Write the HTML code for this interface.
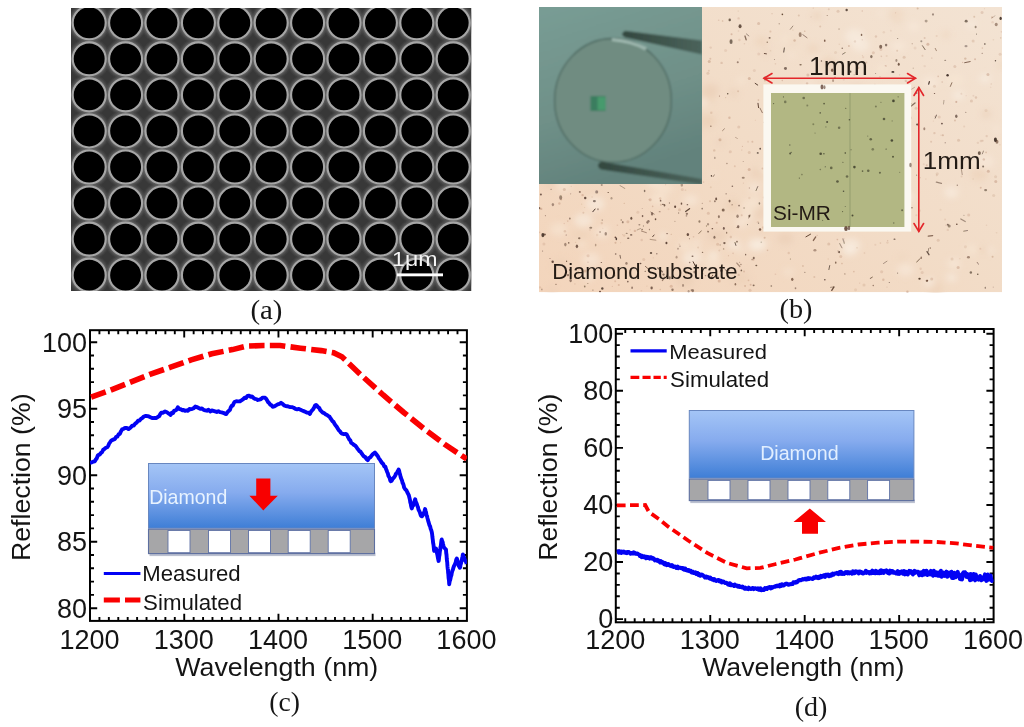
<!DOCTYPE html>
<html><head><meta charset="utf-8"><title>Figure</title>
<style>html,body{margin:0;padding:0;background:#fff;}body{width:1024px;height:727px;overflow:hidden;font-family:"Liberation Sans", sans-serif;}svg{display:block;will-change:transform;}</style>
</head><body>
<svg width="1024" height="727" viewBox="0 0 1024 727">
<clipPath id="semclip"><rect x="71" y="8" width="400.5" height="283"/></clipPath>
<radialGradient id="glow" cx="50%" cy="50%" r="50%"><stop offset="0.74" stop-color="#8c8c8c" stop-opacity="0.95"/><stop offset="0.85" stop-color="#626262" stop-opacity="0.65"/><stop offset="1" stop-color="#444" stop-opacity="0"/></radialGradient>
<filter id="semblur" x="0" y="0" width="1" height="1"><feGaussianBlur stdDeviation="0.45"/></filter>
<g clip-path="url(#semclip)"><g filter="url(#semblur)">
<rect x="71" y="8" width="400.5" height="283" fill="#383838"/>
<circle cx="89.2" cy="22.8" r="22" fill="url(#glow)"/>
<circle cx="125.6" cy="22.8" r="22" fill="url(#glow)"/>
<circle cx="162" cy="22.8" r="22" fill="url(#glow)"/>
<circle cx="198.4" cy="22.8" r="22" fill="url(#glow)"/>
<circle cx="234.8" cy="22.8" r="22" fill="url(#glow)"/>
<circle cx="271.2" cy="22.8" r="22" fill="url(#glow)"/>
<circle cx="307.6" cy="22.8" r="22" fill="url(#glow)"/>
<circle cx="344" cy="22.8" r="22" fill="url(#glow)"/>
<circle cx="380.4" cy="22.8" r="22" fill="url(#glow)"/>
<circle cx="416.8" cy="22.8" r="22" fill="url(#glow)"/>
<circle cx="453.2" cy="22.8" r="22" fill="url(#glow)"/>
<circle cx="89.2" cy="58.85" r="22" fill="url(#glow)"/>
<circle cx="125.6" cy="58.85" r="22" fill="url(#glow)"/>
<circle cx="162" cy="58.85" r="22" fill="url(#glow)"/>
<circle cx="198.4" cy="58.85" r="22" fill="url(#glow)"/>
<circle cx="234.8" cy="58.85" r="22" fill="url(#glow)"/>
<circle cx="271.2" cy="58.85" r="22" fill="url(#glow)"/>
<circle cx="307.6" cy="58.85" r="22" fill="url(#glow)"/>
<circle cx="344" cy="58.85" r="22" fill="url(#glow)"/>
<circle cx="380.4" cy="58.85" r="22" fill="url(#glow)"/>
<circle cx="416.8" cy="58.85" r="22" fill="url(#glow)"/>
<circle cx="453.2" cy="58.85" r="22" fill="url(#glow)"/>
<circle cx="89.2" cy="94.9" r="22" fill="url(#glow)"/>
<circle cx="125.6" cy="94.9" r="22" fill="url(#glow)"/>
<circle cx="162" cy="94.9" r="22" fill="url(#glow)"/>
<circle cx="198.4" cy="94.9" r="22" fill="url(#glow)"/>
<circle cx="234.8" cy="94.9" r="22" fill="url(#glow)"/>
<circle cx="271.2" cy="94.9" r="22" fill="url(#glow)"/>
<circle cx="307.6" cy="94.9" r="22" fill="url(#glow)"/>
<circle cx="344" cy="94.9" r="22" fill="url(#glow)"/>
<circle cx="380.4" cy="94.9" r="22" fill="url(#glow)"/>
<circle cx="416.8" cy="94.9" r="22" fill="url(#glow)"/>
<circle cx="453.2" cy="94.9" r="22" fill="url(#glow)"/>
<circle cx="89.2" cy="130.95" r="22" fill="url(#glow)"/>
<circle cx="125.6" cy="130.95" r="22" fill="url(#glow)"/>
<circle cx="162" cy="130.95" r="22" fill="url(#glow)"/>
<circle cx="198.4" cy="130.95" r="22" fill="url(#glow)"/>
<circle cx="234.8" cy="130.95" r="22" fill="url(#glow)"/>
<circle cx="271.2" cy="130.95" r="22" fill="url(#glow)"/>
<circle cx="307.6" cy="130.95" r="22" fill="url(#glow)"/>
<circle cx="344" cy="130.95" r="22" fill="url(#glow)"/>
<circle cx="380.4" cy="130.95" r="22" fill="url(#glow)"/>
<circle cx="416.8" cy="130.95" r="22" fill="url(#glow)"/>
<circle cx="453.2" cy="130.95" r="22" fill="url(#glow)"/>
<circle cx="89.2" cy="167" r="22" fill="url(#glow)"/>
<circle cx="125.6" cy="167" r="22" fill="url(#glow)"/>
<circle cx="162" cy="167" r="22" fill="url(#glow)"/>
<circle cx="198.4" cy="167" r="22" fill="url(#glow)"/>
<circle cx="234.8" cy="167" r="22" fill="url(#glow)"/>
<circle cx="271.2" cy="167" r="22" fill="url(#glow)"/>
<circle cx="307.6" cy="167" r="22" fill="url(#glow)"/>
<circle cx="344" cy="167" r="22" fill="url(#glow)"/>
<circle cx="380.4" cy="167" r="22" fill="url(#glow)"/>
<circle cx="416.8" cy="167" r="22" fill="url(#glow)"/>
<circle cx="453.2" cy="167" r="22" fill="url(#glow)"/>
<circle cx="89.2" cy="203.05" r="22" fill="url(#glow)"/>
<circle cx="125.6" cy="203.05" r="22" fill="url(#glow)"/>
<circle cx="162" cy="203.05" r="22" fill="url(#glow)"/>
<circle cx="198.4" cy="203.05" r="22" fill="url(#glow)"/>
<circle cx="234.8" cy="203.05" r="22" fill="url(#glow)"/>
<circle cx="271.2" cy="203.05" r="22" fill="url(#glow)"/>
<circle cx="307.6" cy="203.05" r="22" fill="url(#glow)"/>
<circle cx="344" cy="203.05" r="22" fill="url(#glow)"/>
<circle cx="380.4" cy="203.05" r="22" fill="url(#glow)"/>
<circle cx="416.8" cy="203.05" r="22" fill="url(#glow)"/>
<circle cx="453.2" cy="203.05" r="22" fill="url(#glow)"/>
<circle cx="89.2" cy="239.1" r="22" fill="url(#glow)"/>
<circle cx="125.6" cy="239.1" r="22" fill="url(#glow)"/>
<circle cx="162" cy="239.1" r="22" fill="url(#glow)"/>
<circle cx="198.4" cy="239.1" r="22" fill="url(#glow)"/>
<circle cx="234.8" cy="239.1" r="22" fill="url(#glow)"/>
<circle cx="271.2" cy="239.1" r="22" fill="url(#glow)"/>
<circle cx="307.6" cy="239.1" r="22" fill="url(#glow)"/>
<circle cx="344" cy="239.1" r="22" fill="url(#glow)"/>
<circle cx="380.4" cy="239.1" r="22" fill="url(#glow)"/>
<circle cx="416.8" cy="239.1" r="22" fill="url(#glow)"/>
<circle cx="453.2" cy="239.1" r="22" fill="url(#glow)"/>
<circle cx="89.2" cy="275.15" r="22" fill="url(#glow)"/>
<circle cx="125.6" cy="275.15" r="22" fill="url(#glow)"/>
<circle cx="162" cy="275.15" r="22" fill="url(#glow)"/>
<circle cx="198.4" cy="275.15" r="22" fill="url(#glow)"/>
<circle cx="234.8" cy="275.15" r="22" fill="url(#glow)"/>
<circle cx="271.2" cy="275.15" r="22" fill="url(#glow)"/>
<circle cx="307.6" cy="275.15" r="22" fill="url(#glow)"/>
<circle cx="344" cy="275.15" r="22" fill="url(#glow)"/>
<circle cx="380.4" cy="275.15" r="22" fill="url(#glow)"/>
<circle cx="416.8" cy="275.15" r="22" fill="url(#glow)"/>
<circle cx="453.2" cy="275.15" r="22" fill="url(#glow)"/>
<circle cx="89.2" cy="22.8" r="16.5" fill="#000" stroke="#a6a6a6" stroke-width="2.1"/>
<circle cx="125.6" cy="22.8" r="16.5" fill="#000" stroke="#a6a6a6" stroke-width="2.1"/>
<circle cx="162" cy="22.8" r="16.5" fill="#000" stroke="#a6a6a6" stroke-width="2.1"/>
<circle cx="198.4" cy="22.8" r="16.5" fill="#000" stroke="#a6a6a6" stroke-width="2.1"/>
<circle cx="234.8" cy="22.8" r="16.5" fill="#000" stroke="#a6a6a6" stroke-width="2.1"/>
<circle cx="271.2" cy="22.8" r="16.5" fill="#000" stroke="#a6a6a6" stroke-width="2.1"/>
<circle cx="307.6" cy="22.8" r="16.5" fill="#000" stroke="#a6a6a6" stroke-width="2.1"/>
<circle cx="344" cy="22.8" r="16.5" fill="#000" stroke="#a6a6a6" stroke-width="2.1"/>
<circle cx="380.4" cy="22.8" r="16.5" fill="#000" stroke="#a6a6a6" stroke-width="2.1"/>
<circle cx="416.8" cy="22.8" r="16.5" fill="#000" stroke="#a6a6a6" stroke-width="2.1"/>
<circle cx="453.2" cy="22.8" r="16.5" fill="#000" stroke="#a6a6a6" stroke-width="2.1"/>
<circle cx="89.2" cy="58.85" r="16.5" fill="#000" stroke="#a6a6a6" stroke-width="2.1"/>
<circle cx="125.6" cy="58.85" r="16.5" fill="#000" stroke="#a6a6a6" stroke-width="2.1"/>
<circle cx="162" cy="58.85" r="16.5" fill="#000" stroke="#a6a6a6" stroke-width="2.1"/>
<circle cx="198.4" cy="58.85" r="16.5" fill="#000" stroke="#a6a6a6" stroke-width="2.1"/>
<circle cx="234.8" cy="58.85" r="16.5" fill="#000" stroke="#a6a6a6" stroke-width="2.1"/>
<circle cx="271.2" cy="58.85" r="16.5" fill="#000" stroke="#a6a6a6" stroke-width="2.1"/>
<circle cx="307.6" cy="58.85" r="16.5" fill="#000" stroke="#a6a6a6" stroke-width="2.1"/>
<circle cx="344" cy="58.85" r="16.5" fill="#000" stroke="#a6a6a6" stroke-width="2.1"/>
<circle cx="380.4" cy="58.85" r="16.5" fill="#000" stroke="#a6a6a6" stroke-width="2.1"/>
<circle cx="416.8" cy="58.85" r="16.5" fill="#000" stroke="#a6a6a6" stroke-width="2.1"/>
<circle cx="453.2" cy="58.85" r="16.5" fill="#000" stroke="#a6a6a6" stroke-width="2.1"/>
<circle cx="89.2" cy="94.9" r="16.5" fill="#000" stroke="#a6a6a6" stroke-width="2.1"/>
<circle cx="125.6" cy="94.9" r="16.5" fill="#000" stroke="#a6a6a6" stroke-width="2.1"/>
<circle cx="162" cy="94.9" r="16.5" fill="#000" stroke="#a6a6a6" stroke-width="2.1"/>
<circle cx="198.4" cy="94.9" r="16.5" fill="#000" stroke="#a6a6a6" stroke-width="2.1"/>
<circle cx="234.8" cy="94.9" r="16.5" fill="#000" stroke="#a6a6a6" stroke-width="2.1"/>
<circle cx="271.2" cy="94.9" r="16.5" fill="#000" stroke="#a6a6a6" stroke-width="2.1"/>
<circle cx="307.6" cy="94.9" r="16.5" fill="#000" stroke="#a6a6a6" stroke-width="2.1"/>
<circle cx="344" cy="94.9" r="16.5" fill="#000" stroke="#a6a6a6" stroke-width="2.1"/>
<circle cx="380.4" cy="94.9" r="16.5" fill="#000" stroke="#a6a6a6" stroke-width="2.1"/>
<circle cx="416.8" cy="94.9" r="16.5" fill="#000" stroke="#a6a6a6" stroke-width="2.1"/>
<circle cx="453.2" cy="94.9" r="16.5" fill="#000" stroke="#a6a6a6" stroke-width="2.1"/>
<circle cx="89.2" cy="130.95" r="16.5" fill="#000" stroke="#a6a6a6" stroke-width="2.1"/>
<circle cx="125.6" cy="130.95" r="16.5" fill="#000" stroke="#a6a6a6" stroke-width="2.1"/>
<circle cx="162" cy="130.95" r="16.5" fill="#000" stroke="#a6a6a6" stroke-width="2.1"/>
<circle cx="198.4" cy="130.95" r="16.5" fill="#000" stroke="#a6a6a6" stroke-width="2.1"/>
<circle cx="234.8" cy="130.95" r="16.5" fill="#000" stroke="#a6a6a6" stroke-width="2.1"/>
<circle cx="271.2" cy="130.95" r="16.5" fill="#000" stroke="#a6a6a6" stroke-width="2.1"/>
<circle cx="307.6" cy="130.95" r="16.5" fill="#000" stroke="#a6a6a6" stroke-width="2.1"/>
<circle cx="344" cy="130.95" r="16.5" fill="#000" stroke="#a6a6a6" stroke-width="2.1"/>
<circle cx="380.4" cy="130.95" r="16.5" fill="#000" stroke="#a6a6a6" stroke-width="2.1"/>
<circle cx="416.8" cy="130.95" r="16.5" fill="#000" stroke="#a6a6a6" stroke-width="2.1"/>
<circle cx="453.2" cy="130.95" r="16.5" fill="#000" stroke="#a6a6a6" stroke-width="2.1"/>
<circle cx="89.2" cy="167" r="16.5" fill="#000" stroke="#a6a6a6" stroke-width="2.1"/>
<circle cx="125.6" cy="167" r="16.5" fill="#000" stroke="#a6a6a6" stroke-width="2.1"/>
<circle cx="162" cy="167" r="16.5" fill="#000" stroke="#a6a6a6" stroke-width="2.1"/>
<circle cx="198.4" cy="167" r="16.5" fill="#000" stroke="#a6a6a6" stroke-width="2.1"/>
<circle cx="234.8" cy="167" r="16.5" fill="#000" stroke="#a6a6a6" stroke-width="2.1"/>
<circle cx="271.2" cy="167" r="16.5" fill="#000" stroke="#a6a6a6" stroke-width="2.1"/>
<circle cx="307.6" cy="167" r="16.5" fill="#000" stroke="#a6a6a6" stroke-width="2.1"/>
<circle cx="344" cy="167" r="16.5" fill="#000" stroke="#a6a6a6" stroke-width="2.1"/>
<circle cx="380.4" cy="167" r="16.5" fill="#000" stroke="#a6a6a6" stroke-width="2.1"/>
<circle cx="416.8" cy="167" r="16.5" fill="#000" stroke="#a6a6a6" stroke-width="2.1"/>
<circle cx="453.2" cy="167" r="16.5" fill="#000" stroke="#a6a6a6" stroke-width="2.1"/>
<circle cx="89.2" cy="203.05" r="16.5" fill="#000" stroke="#a6a6a6" stroke-width="2.1"/>
<circle cx="125.6" cy="203.05" r="16.5" fill="#000" stroke="#a6a6a6" stroke-width="2.1"/>
<circle cx="162" cy="203.05" r="16.5" fill="#000" stroke="#a6a6a6" stroke-width="2.1"/>
<circle cx="198.4" cy="203.05" r="16.5" fill="#000" stroke="#a6a6a6" stroke-width="2.1"/>
<circle cx="234.8" cy="203.05" r="16.5" fill="#000" stroke="#a6a6a6" stroke-width="2.1"/>
<circle cx="271.2" cy="203.05" r="16.5" fill="#000" stroke="#a6a6a6" stroke-width="2.1"/>
<circle cx="307.6" cy="203.05" r="16.5" fill="#000" stroke="#a6a6a6" stroke-width="2.1"/>
<circle cx="344" cy="203.05" r="16.5" fill="#000" stroke="#a6a6a6" stroke-width="2.1"/>
<circle cx="380.4" cy="203.05" r="16.5" fill="#000" stroke="#a6a6a6" stroke-width="2.1"/>
<circle cx="416.8" cy="203.05" r="16.5" fill="#000" stroke="#a6a6a6" stroke-width="2.1"/>
<circle cx="453.2" cy="203.05" r="16.5" fill="#000" stroke="#a6a6a6" stroke-width="2.1"/>
<circle cx="89.2" cy="239.1" r="16.5" fill="#000" stroke="#a6a6a6" stroke-width="2.1"/>
<circle cx="125.6" cy="239.1" r="16.5" fill="#000" stroke="#a6a6a6" stroke-width="2.1"/>
<circle cx="162" cy="239.1" r="16.5" fill="#000" stroke="#a6a6a6" stroke-width="2.1"/>
<circle cx="198.4" cy="239.1" r="16.5" fill="#000" stroke="#a6a6a6" stroke-width="2.1"/>
<circle cx="234.8" cy="239.1" r="16.5" fill="#000" stroke="#a6a6a6" stroke-width="2.1"/>
<circle cx="271.2" cy="239.1" r="16.5" fill="#000" stroke="#a6a6a6" stroke-width="2.1"/>
<circle cx="307.6" cy="239.1" r="16.5" fill="#000" stroke="#a6a6a6" stroke-width="2.1"/>
<circle cx="344" cy="239.1" r="16.5" fill="#000" stroke="#a6a6a6" stroke-width="2.1"/>
<circle cx="380.4" cy="239.1" r="16.5" fill="#000" stroke="#a6a6a6" stroke-width="2.1"/>
<circle cx="416.8" cy="239.1" r="16.5" fill="#000" stroke="#a6a6a6" stroke-width="2.1"/>
<circle cx="453.2" cy="239.1" r="16.5" fill="#000" stroke="#a6a6a6" stroke-width="2.1"/>
<circle cx="89.2" cy="275.15" r="16.5" fill="#000" stroke="#a6a6a6" stroke-width="2.1"/>
<circle cx="125.6" cy="275.15" r="16.5" fill="#000" stroke="#a6a6a6" stroke-width="2.1"/>
<circle cx="162" cy="275.15" r="16.5" fill="#000" stroke="#a6a6a6" stroke-width="2.1"/>
<circle cx="198.4" cy="275.15" r="16.5" fill="#000" stroke="#a6a6a6" stroke-width="2.1"/>
<circle cx="234.8" cy="275.15" r="16.5" fill="#000" stroke="#a6a6a6" stroke-width="2.1"/>
<circle cx="271.2" cy="275.15" r="16.5" fill="#000" stroke="#a6a6a6" stroke-width="2.1"/>
<circle cx="307.6" cy="275.15" r="16.5" fill="#000" stroke="#a6a6a6" stroke-width="2.1"/>
<circle cx="344" cy="275.15" r="16.5" fill="#000" stroke="#a6a6a6" stroke-width="2.1"/>
<circle cx="380.4" cy="275.15" r="16.5" fill="#000" stroke="#a6a6a6" stroke-width="2.1"/>
<circle cx="416.8" cy="275.15" r="16.5" fill="#000" stroke="#a6a6a6" stroke-width="2.1"/>
<circle cx="453.2" cy="275.15" r="16.5" fill="#000" stroke="#a6a6a6" stroke-width="2.1"/>
</g></g>
<rect x="397" y="273.4" width="46" height="2.9" fill="#fff"/>
<text transform="translate(392.04 266.14) scale(1.1506 1)" font-family='"Liberation Sans", sans-serif' font-size="20.12" fill="#f4f4f4">1μm</text>
<text transform="translate(250.43 318.73) scale(1.0469 1)" font-family='"Liberation Serif", serif' font-size="27.57" fill="#161616">(a)</text>
<clipPath id="phclip"><rect x="539" y="7" width="463" height="285.3"/></clipPath>
<filter id="soft" x="-0.2" y="-0.2" width="1.4" height="1.4"><feGaussianBlur stdDeviation="0.5"/></filter>
<filter id="soft2" x="-0.5" y="-0.5" width="2" height="2"><feGaussianBlur stdDeviation="3"/></filter>
<g clip-path="url(#phclip)">
<linearGradient id="beige" x1="0" y1="1" x2="1" y2="0"><stop offset="0" stop-color="#f3d5bc"/><stop offset="0.5" stop-color="#f2dcc7"/><stop offset="1" stop-color="#f3e3d3"/></linearGradient>
<rect x="539" y="7" width="463" height="285.3" fill="url(#beige)"/>
<g filter="url(#soft2)">
<ellipse cx="649.18" cy="162.11" rx="5.59" ry="4.19" fill="#f9eee2" opacity="0.6"/>
<ellipse cx="758.49" cy="172.54" rx="7.24" ry="5.43" fill="#eacdb4" opacity="0.6"/>
<ellipse cx="659.08" cy="73.78" rx="9.97" ry="7.48" fill="#eacdb4" opacity="0.6"/>
<ellipse cx="789.47" cy="163.64" rx="5.78" ry="4.33" fill="#ecd0b8" opacity="0.6"/>
<ellipse cx="646.38" cy="50.21" rx="9.48" ry="7.11" fill="#eacdb4" opacity="0.6"/>
<ellipse cx="882.2" cy="198.35" rx="3.45" ry="2.59" fill="#f9eee2" opacity="0.6"/>
<ellipse cx="558.81" cy="229.32" rx="8.76" ry="6.57" fill="#f6e6d4" opacity="0.6"/>
<ellipse cx="757.88" cy="211.86" rx="9.15" ry="6.86" fill="#eacdb4" opacity="0.6"/>
<ellipse cx="721.87" cy="235.26" rx="6.11" ry="4.58" fill="#ecd0b8" opacity="0.6"/>
<ellipse cx="945.92" cy="34.77" rx="3.95" ry="2.96" fill="#ecd0b8" opacity="0.6"/>
<ellipse cx="658.45" cy="198.53" rx="8.45" ry="6.34" fill="#f6e6d4" opacity="0.6"/>
<ellipse cx="733.99" cy="244.54" rx="7.02" ry="5.26" fill="#f9eee2" opacity="0.6"/>
<ellipse cx="809.89" cy="173.51" rx="9.33" ry="7" fill="#f8eadb" opacity="0.6"/>
<ellipse cx="935.51" cy="289.43" rx="7.7" ry="5.77" fill="#ecd0b8" opacity="0.6"/>
<ellipse cx="862.46" cy="100.02" rx="6.79" ry="5.09" fill="#f9eee2" opacity="0.6"/>
<ellipse cx="802.5" cy="210.44" rx="4.48" ry="3.36" fill="#f9eee2" opacity="0.6"/>
<ellipse cx="662.66" cy="42.46" rx="6.37" ry="4.78" fill="#eacdb4" opacity="0.6"/>
<ellipse cx="579.98" cy="235.17" rx="5.87" ry="4.4" fill="#ecd0b8" opacity="0.6"/>
<ellipse cx="548.32" cy="128.74" rx="5.91" ry="4.43" fill="#f8eadb" opacity="0.6"/>
<ellipse cx="559.46" cy="182.14" rx="3.31" ry="2.49" fill="#f9eee2" opacity="0.6"/>
<ellipse cx="692.23" cy="258.06" rx="9.86" ry="7.4" fill="#f9eee2" opacity="0.6"/>
<ellipse cx="648.25" cy="17.26" rx="3.05" ry="2.29" fill="#f8eadb" opacity="0.6"/>
<ellipse cx="816.69" cy="15.94" rx="4.38" ry="3.29" fill="#eacdb4" opacity="0.6"/>
<ellipse cx="674.02" cy="82.06" rx="7.83" ry="5.87" fill="#f6e6d4" opacity="0.6"/>
<ellipse cx="684.3" cy="280.22" rx="9.28" ry="6.96" fill="#eacdb4" opacity="0.6"/>
<ellipse cx="713.44" cy="254.92" rx="5.7" ry="4.28" fill="#f9eee2" opacity="0.6"/>
<ellipse cx="854.29" cy="36.23" rx="9.81" ry="7.36" fill="#f9eee2" opacity="0.6"/>
<ellipse cx="664.61" cy="187.77" rx="8.01" ry="6.01" fill="#f6e6d4" opacity="0.6"/>
<ellipse cx="741.54" cy="80.6" rx="5.12" ry="3.84" fill="#f6e6d4" opacity="0.6"/>
<ellipse cx="544.3" cy="125.33" rx="7.06" ry="5.29" fill="#f8eadb" opacity="0.6"/>
<ellipse cx="713.33" cy="174.92" rx="3.93" ry="2.95" fill="#f6e6d4" opacity="0.6"/>
<ellipse cx="754.87" cy="200.6" rx="5.47" ry="4.1" fill="#f6e6d4" opacity="0.6"/>
<ellipse cx="880.71" cy="13.32" rx="3.42" ry="2.57" fill="#f8eadb" opacity="0.6"/>
<ellipse cx="985.01" cy="78.57" rx="6.19" ry="4.65" fill="#f9eee2" opacity="0.6"/>
<ellipse cx="817.47" cy="57.56" rx="4.3" ry="3.22" fill="#f6e6d4" opacity="0.6"/>
<ellipse cx="929.7" cy="82.28" rx="8.51" ry="6.38" fill="#f8eadb" opacity="0.6"/>
<ellipse cx="896.56" cy="14.67" rx="6.98" ry="5.24" fill="#ecd0b8" opacity="0.6"/>
<ellipse cx="682.54" cy="70.42" rx="8.63" ry="6.47" fill="#ecd0b8" opacity="0.6"/>
<ellipse cx="690.77" cy="200.25" rx="7.55" ry="5.66" fill="#f8eadb" opacity="0.6"/>
<ellipse cx="586.15" cy="98.76" rx="5.34" ry="4" fill="#ecd0b8" opacity="0.6"/>
<ellipse cx="741.99" cy="250.83" rx="4.18" ry="3.14" fill="#f6e6d4" opacity="0.6"/>
<ellipse cx="882.58" cy="69.14" rx="6.98" ry="5.23" fill="#f6e6d4" opacity="0.6"/>
<ellipse cx="643.19" cy="41.46" rx="6.71" ry="5.03" fill="#ecd0b8" opacity="0.6"/>
<ellipse cx="684.91" cy="245.32" rx="7.02" ry="5.27" fill="#f6e6d4" opacity="0.6"/>
<ellipse cx="696.47" cy="242.96" rx="3.6" ry="2.7" fill="#f9eee2" opacity="0.6"/>
<ellipse cx="698.87" cy="43.96" rx="5.04" ry="3.78" fill="#f6e6d4" opacity="0.6"/>
<ellipse cx="754.17" cy="187.74" rx="5.03" ry="3.77" fill="#f9eee2" opacity="0.6"/>
<ellipse cx="728.61" cy="269.37" rx="4.09" ry="3.07" fill="#f8eadb" opacity="0.6"/>
<ellipse cx="760.01" cy="244.27" rx="7.36" ry="5.52" fill="#f9eee2" opacity="0.6"/>
<ellipse cx="740.11" cy="277.8" rx="9.49" ry="7.12" fill="#ecd0b8" opacity="0.6"/>
<ellipse cx="553.96" cy="137.15" rx="8.27" ry="6.21" fill="#f9eee2" opacity="0.6"/>
<ellipse cx="985.04" cy="162" rx="9.23" ry="6.92" fill="#f8eadb" opacity="0.6"/>
<ellipse cx="936.25" cy="283.72" rx="3.84" ry="2.88" fill="#ecd0b8" opacity="0.6"/>
<ellipse cx="559.87" cy="264.53" rx="7.86" ry="5.89" fill="#ecd0b8" opacity="0.6"/>
<ellipse cx="954.11" cy="263.41" rx="7.04" ry="5.28" fill="#f8eadb" opacity="0.6"/>
<ellipse cx="761.73" cy="41.43" rx="6.52" ry="4.89" fill="#ecd0b8" opacity="0.6"/>
<ellipse cx="845.92" cy="156.61" rx="5.9" ry="4.42" fill="#f9eee2" opacity="0.6"/>
<ellipse cx="591.59" cy="42.74" rx="9.8" ry="7.35" fill="#f9eee2" opacity="0.6"/>
<ellipse cx="759.94" cy="229.96" rx="5.46" ry="4.1" fill="#ecd0b8" opacity="0.6"/>
<ellipse cx="595.59" cy="259.98" rx="3.83" ry="2.88" fill="#ecd0b8" opacity="0.6"/>
<ellipse cx="905.54" cy="269.7" rx="8.64" ry="6.48" fill="#f8eadb" opacity="0.6"/>
<ellipse cx="764.71" cy="169.71" rx="5.8" ry="4.35" fill="#f6e6d4" opacity="0.6"/>
<ellipse cx="653.94" cy="183.16" rx="6.64" ry="4.98" fill="#f8eadb" opacity="0.6"/>
<ellipse cx="757.95" cy="228.3" rx="3.01" ry="2.26" fill="#f8eadb" opacity="0.6"/>
<ellipse cx="897.94" cy="20.16" rx="3.35" ry="2.51" fill="#eacdb4" opacity="0.6"/>
<ellipse cx="990.28" cy="250.52" rx="3.6" ry="2.7" fill="#f9eee2" opacity="0.6"/>
<ellipse cx="765.87" cy="51.76" rx="3.5" ry="2.63" fill="#eacdb4" opacity="0.6"/>
<ellipse cx="838.52" cy="174.18" rx="5.53" ry="4.14" fill="#ecd0b8" opacity="0.6"/>
<ellipse cx="996.45" cy="129.18" rx="3.89" ry="2.92" fill="#f8eadb" opacity="0.6"/>
<ellipse cx="870.53" cy="115.37" rx="3.56" ry="2.67" fill="#ecd0b8" opacity="0.6"/>
<ellipse cx="558.89" cy="138.33" rx="7.55" ry="5.66" fill="#f9eee2" opacity="0.6"/>
<ellipse cx="715.06" cy="235.33" rx="7.36" ry="5.52" fill="#eacdb4" opacity="0.6"/>
<ellipse cx="563.57" cy="185.82" rx="8.32" ry="6.24" fill="#f6e6d4" opacity="0.6"/>
<ellipse cx="733.7" cy="204.83" rx="6.23" ry="4.67" fill="#ecd0b8" opacity="0.6"/>
<ellipse cx="640.23" cy="83.98" rx="7.13" ry="5.35" fill="#eacdb4" opacity="0.6"/>
<ellipse cx="642.92" cy="44.15" rx="3.2" ry="2.4" fill="#f6e6d4" opacity="0.6"/>
<ellipse cx="712.27" cy="262.89" rx="8.54" ry="6.4" fill="#f6e6d4" opacity="0.6"/>
<ellipse cx="595.23" cy="203.81" rx="9.57" ry="7.18" fill="#f9eee2" opacity="0.6"/>
<ellipse cx="905.91" cy="197.26" rx="8.14" ry="6.1" fill="#f9eee2" opacity="0.6"/>
<ellipse cx="785.3" cy="238.31" rx="8.02" ry="6.01" fill="#eacdb4" opacity="0.6"/>
<ellipse cx="605.45" cy="227.68" rx="3.31" ry="2.48" fill="#f8eadb" opacity="0.6"/>
<ellipse cx="800.28" cy="194.87" rx="5.63" ry="4.22" fill="#f8eadb" opacity="0.6"/>
<ellipse cx="697.11" cy="249.91" rx="3.18" ry="2.38" fill="#f8eadb" opacity="0.6"/>
<ellipse cx="850.85" cy="245.31" rx="9.67" ry="7.25" fill="#f9eee2" opacity="0.6"/>
<ellipse cx="677.61" cy="32.3" rx="9.97" ry="7.48" fill="#f9eee2" opacity="0.6"/>
<ellipse cx="775.74" cy="210.82" rx="3.75" ry="2.81" fill="#f8eadb" opacity="0.6"/>
<ellipse cx="971.7" cy="24.42" rx="5.27" ry="3.95" fill="#f9eee2" opacity="0.6"/>
<ellipse cx="622.54" cy="29.04" rx="9.99" ry="7.49" fill="#ecd0b8" opacity="0.6"/>
<ellipse cx="749.27" cy="206.53" rx="9.6" ry="7.2" fill="#f6e6d4" opacity="0.6"/>
<ellipse cx="709.14" cy="120.04" rx="5.45" ry="4.09" fill="#eacdb4" opacity="0.6"/>
<ellipse cx="986.4" cy="113.97" rx="4.65" ry="3.49" fill="#eacdb4" opacity="0.6"/>
<ellipse cx="929.59" cy="282.62" rx="5.91" ry="4.43" fill="#f9eee2" opacity="0.6"/>
<ellipse cx="889.08" cy="199.05" rx="6.62" ry="4.96" fill="#eacdb4" opacity="0.6"/>
<ellipse cx="611.31" cy="121.3" rx="9.21" ry="6.91" fill="#ecd0b8" opacity="0.6"/>
<ellipse cx="583.38" cy="220.22" rx="9.42" ry="7.06" fill="#f9eee2" opacity="0.6"/>
<ellipse cx="979.17" cy="174.14" rx="9.01" ry="6.76" fill="#ecd0b8" opacity="0.6"/>
<ellipse cx="662.79" cy="63.77" rx="7.1" ry="5.32" fill="#f6e6d4" opacity="0.6"/>
<ellipse cx="971.81" cy="249.67" rx="6.77" ry="5.07" fill="#f6e6d4" opacity="0.6"/>
<ellipse cx="849.85" cy="250.76" rx="7.17" ry="5.37" fill="#f9eee2" opacity="0.6"/>
<ellipse cx="809.69" cy="83.14" rx="4.52" ry="3.39" fill="#f8eadb" opacity="0.6"/>
<ellipse cx="663.13" cy="236.17" rx="4.4" ry="3.3" fill="#f9eee2" opacity="0.6"/>
<ellipse cx="705.9" cy="98.78" rx="8.42" ry="6.31" fill="#ecd0b8" opacity="0.6"/>
<ellipse cx="732.73" cy="205.8" rx="7.91" ry="5.93" fill="#ecd0b8" opacity="0.6"/>
<ellipse cx="755.71" cy="244.86" rx="8.75" ry="6.56" fill="#f9eee2" opacity="0.6"/>
<ellipse cx="551.86" cy="289.94" rx="3.51" ry="2.63" fill="#eacdb4" opacity="0.6"/>
<ellipse cx="901.58" cy="258.33" rx="3.32" ry="2.49" fill="#ecd0b8" opacity="0.6"/>
<ellipse cx="951.53" cy="191.75" rx="8.44" ry="6.33" fill="#f8eadb" opacity="0.6"/>
<ellipse cx="982.88" cy="250.36" rx="4.69" ry="3.52" fill="#ecd0b8" opacity="0.6"/>
<ellipse cx="898.2" cy="46.18" rx="7.35" ry="5.52" fill="#f8eadb" opacity="0.6"/>
<ellipse cx="955.59" cy="79.68" rx="9.06" ry="6.79" fill="#f6e6d4" opacity="0.6"/>
<ellipse cx="623.85" cy="32.92" rx="8.59" ry="6.44" fill="#f8eadb" opacity="0.6"/>
<ellipse cx="581.89" cy="244.67" rx="5.04" ry="3.78" fill="#f6e6d4" opacity="0.6"/>
<ellipse cx="748.44" cy="216.22" rx="5.36" ry="4.02" fill="#f8eadb" opacity="0.6"/>
<ellipse cx="694.01" cy="131.32" rx="6.4" ry="4.8" fill="#ecd0b8" opacity="0.6"/>
<ellipse cx="837.31" cy="218.58" rx="6.43" ry="4.82" fill="#ecd0b8" opacity="0.6"/>
<ellipse cx="791.04" cy="40.97" rx="4.92" ry="3.69" fill="#eacdb4" opacity="0.6"/>
<ellipse cx="591.1" cy="259.85" rx="9.36" ry="7.02" fill="#f8eadb" opacity="0.6"/>
<ellipse cx="783.32" cy="206.7" rx="7.75" ry="5.81" fill="#f6e6d4" opacity="0.6"/>
<ellipse cx="889.64" cy="91.23" rx="7.73" ry="5.8" fill="#f6e6d4" opacity="0.6"/>
<ellipse cx="588.62" cy="276.17" rx="5.37" ry="4.03" fill="#f9eee2" opacity="0.6"/>
<ellipse cx="787.25" cy="39.29" rx="6.46" ry="4.84" fill="#f6e6d4" opacity="0.6"/>
<ellipse cx="566.56" cy="90.91" rx="8.1" ry="6.07" fill="#ecd0b8" opacity="0.6"/>
<ellipse cx="838.02" cy="215.11" rx="4.05" ry="3.04" fill="#f6e6d4" opacity="0.6"/>
<ellipse cx="951.03" cy="193.78" rx="3.86" ry="2.9" fill="#f9eee2" opacity="0.6"/>
<ellipse cx="604.46" cy="101.49" rx="8.04" ry="6.03" fill="#f9eee2" opacity="0.6"/>
<ellipse cx="733.52" cy="92.66" rx="4.31" ry="3.23" fill="#eacdb4" opacity="0.6"/>
<ellipse cx="683.66" cy="57.27" rx="3.48" ry="2.61" fill="#ecd0b8" opacity="0.6"/>
<ellipse cx="888.32" cy="161.79" rx="8.18" ry="6.13" fill="#f6e6d4" opacity="0.6"/>
<ellipse cx="585.23" cy="84.19" rx="3.37" ry="2.53" fill="#ecd0b8" opacity="0.6"/>
<ellipse cx="558.5" cy="150.84" rx="4.73" ry="3.55" fill="#f9eee2" opacity="0.6"/>
<ellipse cx="702.95" cy="101.87" rx="5.82" ry="4.37" fill="#f9eee2" opacity="0.6"/>
<ellipse cx="913.64" cy="26.73" rx="6.49" ry="4.86" fill="#f8eadb" opacity="0.6"/>
<ellipse cx="609.18" cy="175.18" rx="7.77" ry="5.83" fill="#f9eee2" opacity="0.6"/>
<ellipse cx="899.67" cy="214.28" rx="4.29" ry="3.22" fill="#ecd0b8" opacity="0.6"/>
<ellipse cx="801.56" cy="197.99" rx="5.74" ry="4.3" fill="#ecd0b8" opacity="0.6"/>
<ellipse cx="813.06" cy="48.74" rx="5.79" ry="4.34" fill="#ecd0b8" opacity="0.6"/>
<ellipse cx="791.21" cy="55.54" rx="4.25" ry="3.19" fill="#f6e6d4" opacity="0.6"/>
<ellipse cx="710.12" cy="90.51" rx="8.9" ry="6.67" fill="#eacdb4" opacity="0.6"/>
<ellipse cx="951.63" cy="277.56" rx="5.68" ry="4.26" fill="#f9eee2" opacity="0.6"/>
<ellipse cx="958.55" cy="95.24" rx="6.48" ry="4.86" fill="#f9eee2" opacity="0.6"/>
<ellipse cx="856.91" cy="92.33" rx="9.02" ry="6.77" fill="#eacdb4" opacity="0.6"/>
<ellipse cx="552.97" cy="61.29" rx="7.44" ry="5.58" fill="#f8eadb" opacity="0.6"/>
<ellipse cx="895.72" cy="195.65" rx="6.44" ry="4.83" fill="#f9eee2" opacity="0.6"/>
<ellipse cx="828.38" cy="63.69" rx="8.48" ry="6.36" fill="#ecd0b8" opacity="0.6"/>
<ellipse cx="556.16" cy="149.63" rx="7.52" ry="5.64" fill="#eacdb4" opacity="0.6"/>
<ellipse cx="590.66" cy="87.73" rx="7.6" ry="5.7" fill="#ecd0b8" opacity="0.6"/>
<ellipse cx="601.78" cy="232.83" rx="7.36" ry="5.52" fill="#f8eadb" opacity="0.6"/>
<ellipse cx="550.81" cy="183.23" rx="6.54" ry="4.91" fill="#eacdb4" opacity="0.6"/>
<ellipse cx="788.5" cy="272" rx="5.26" ry="3.95" fill="#f6e6d4" opacity="0.6"/>
<ellipse cx="860.63" cy="45.29" rx="9.01" ry="6.76" fill="#f9eee2" opacity="0.6"/>
<ellipse cx="897.99" cy="16.68" rx="3.56" ry="2.67" fill="#f6e6d4" opacity="0.6"/>
<ellipse cx="1001.01" cy="65.45" rx="3.44" ry="2.58" fill="#ecd0b8" opacity="0.6"/>
<ellipse cx="741.34" cy="222.7" rx="6.4" ry="4.8" fill="#f8eadb" opacity="0.6"/>
<ellipse cx="903.33" cy="123.42" rx="8.92" ry="6.69" fill="#ecd0b8" opacity="0.6"/>
<ellipse cx="720.26" cy="141.88" rx="3.48" ry="2.61" fill="#eacdb4" opacity="0.6"/>
<ellipse cx="635.48" cy="146.37" rx="3.16" ry="2.37" fill="#eacdb4" opacity="0.6"/>
<ellipse cx="889.54" cy="121.42" rx="4.26" ry="3.2" fill="#f8eadb" opacity="0.6"/>
<ellipse cx="872.22" cy="111.58" rx="5.6" ry="4.2" fill="#f9eee2" opacity="0.6"/>
<ellipse cx="706.39" cy="121.52" rx="9.79" ry="7.34" fill="#ecd0b8" opacity="0.6"/>
<ellipse cx="658.77" cy="112.34" rx="8.99" ry="6.74" fill="#f9eee2" opacity="0.6"/>
</g>
<g filter="url(#soft)">
<circle cx="629.42" cy="66.65" r="0.8" fill="#a87458" opacity="0.25"/>
<circle cx="772.19" cy="188.46" r="0.8" fill="#a87458" opacity="0.15"/>
<circle cx="616.89" cy="146.73" r="0.6" fill="#a87458" opacity="0.31"/>
<circle cx="725.64" cy="97.59" r="0.6" fill="#a87458" opacity="0.28"/>
<circle cx="562.67" cy="121.94" r="1.2" fill="#a87458" opacity="0.23"/>
<circle cx="959.85" cy="258.68" r="0.8" fill="#a87458" opacity="0.14"/>
<circle cx="758.73" cy="53.96" r="1.5" fill="#a87458" opacity="0.15"/>
<circle cx="961.57" cy="176.41" r="1.0" fill="#a87458" opacity="0.18"/>
<circle cx="903.77" cy="139.64" r="1.0" fill="#a87458" opacity="0.23"/>
<circle cx="798.8" cy="15.58" r="1.0" fill="#a87458" opacity="0.26"/>
<circle cx="698.61" cy="33.71" r="1.2" fill="#a87458" opacity="0.34"/>
<circle cx="813.22" cy="8.04" r="0.6" fill="#a87458" opacity="0.28"/>
<circle cx="547.83" cy="150.36" r="1.2" fill="#a87458" opacity="0.13"/>
<circle cx="841.95" cy="263.59" r="0.8" fill="#a87458" opacity="0.33"/>
<circle cx="889.68" cy="103.9" r="1.2" fill="#a87458" opacity="0.33"/>
<circle cx="974.26" cy="16.75" r="1.0" fill="#a87458" opacity="0.29"/>
<circle cx="831.38" cy="119.39" r="1.0" fill="#a87458" opacity="0.16"/>
<circle cx="730.25" cy="151.63" r="1.5" fill="#a87458" opacity="0.20"/>
<circle cx="853.86" cy="271.63" r="0.8" fill="#a87458" opacity="0.31"/>
<circle cx="939.27" cy="116.97" r="1.5" fill="#a87458" opacity="0.20"/>
<circle cx="624.16" cy="235.48" r="1.2" fill="#a87458" opacity="0.17"/>
<circle cx="899.89" cy="143.98" r="1.0" fill="#a87458" opacity="0.31"/>
<circle cx="773.76" cy="221.53" r="1.2" fill="#a87458" opacity="0.34"/>
<circle cx="558.79" cy="55.93" r="0.6" fill="#a87458" opacity="0.31"/>
<circle cx="581.59" cy="204.18" r="0.6" fill="#a87458" opacity="0.19"/>
<circle cx="817.12" cy="235.38" r="0.6" fill="#a87458" opacity="0.32"/>
<circle cx="942.86" cy="135.22" r="1.0" fill="#a87458" opacity="0.35"/>
<circle cx="539.77" cy="62.53" r="0.6" fill="#a87458" opacity="0.20"/>
<circle cx="683.14" cy="135.34" r="0.8" fill="#a87458" opacity="0.18"/>
<circle cx="561.6" cy="50.51" r="0.8" fill="#a87458" opacity="0.25"/>
<circle cx="544.4" cy="72.53" r="0.8" fill="#a87458" opacity="0.17"/>
<circle cx="799.41" cy="126.59" r="1.5" fill="#a87458" opacity="0.19"/>
<circle cx="947.78" cy="229.92" r="1.2" fill="#a87458" opacity="0.16"/>
<circle cx="575.64" cy="242.27" r="0.6" fill="#a87458" opacity="0.26"/>
<circle cx="936.66" cy="35.9" r="1.0" fill="#a87458" opacity="0.14"/>
<circle cx="754.4" cy="70.48" r="1.5" fill="#a87458" opacity="0.15"/>
<circle cx="763.83" cy="197.52" r="1.0" fill="#a87458" opacity="0.21"/>
<circle cx="845.08" cy="228.68" r="1.0" fill="#a87458" opacity="0.31"/>
<circle cx="814.21" cy="239.22" r="0.8" fill="#a87458" opacity="0.15"/>
<circle cx="542.5" cy="92.29" r="0.6" fill="#a87458" opacity="0.20"/>
<circle cx="627.88" cy="221.78" r="1.5" fill="#a87458" opacity="0.28"/>
<circle cx="707.83" cy="230.47" r="0.6" fill="#a87458" opacity="0.26"/>
<circle cx="638.16" cy="106.91" r="0.6" fill="#a87458" opacity="0.20"/>
<circle cx="738.47" cy="30.99" r="0.8" fill="#a87458" opacity="0.19"/>
<circle cx="886.04" cy="65.98" r="0.8" fill="#a87458" opacity="0.32"/>
<circle cx="995.78" cy="181.46" r="1.5" fill="#a87458" opacity="0.32"/>
<circle cx="709.28" cy="61.48" r="1.5" fill="#a87458" opacity="0.34"/>
<circle cx="763.18" cy="227.44" r="1.2" fill="#a87458" opacity="0.23"/>
<circle cx="811.05" cy="16.97" r="0.6" fill="#a87458" opacity="0.16"/>
<circle cx="583.39" cy="212.87" r="1.0" fill="#a87458" opacity="0.24"/>
<circle cx="567.41" cy="141.55" r="0.8" fill="#a87458" opacity="0.29"/>
<circle cx="666.78" cy="130.23" r="1.0" fill="#a87458" opacity="0.23"/>
<circle cx="630.09" cy="229.87" r="0.8" fill="#a87458" opacity="0.14"/>
<circle cx="677.59" cy="124.16" r="0.6" fill="#a87458" opacity="0.17"/>
<circle cx="764.62" cy="237.85" r="1.0" fill="#a87458" opacity="0.34"/>
<circle cx="992.58" cy="256.7" r="1.0" fill="#a87458" opacity="0.34"/>
<circle cx="738.69" cy="274.9" r="1.2" fill="#a87458" opacity="0.24"/>
<circle cx="789.98" cy="109.52" r="1.0" fill="#a87458" opacity="0.19"/>
<circle cx="753.44" cy="259.74" r="1.0" fill="#a87458" opacity="0.29"/>
<circle cx="969.65" cy="155.08" r="0.6" fill="#a87458" opacity="0.15"/>
<circle cx="784.79" cy="159.71" r="0.8" fill="#a87458" opacity="0.34"/>
<circle cx="539.9" cy="287.35" r="1.2" fill="#a87458" opacity="0.20"/>
<circle cx="986.09" cy="110.4" r="1.5" fill="#a87458" opacity="0.13"/>
<circle cx="624.67" cy="10.76" r="1.2" fill="#a87458" opacity="0.33"/>
<circle cx="925.85" cy="178.99" r="0.6" fill="#a87458" opacity="0.22"/>
<circle cx="660.18" cy="198.51" r="1.2" fill="#a87458" opacity="0.22"/>
<circle cx="659.54" cy="19.54" r="1.2" fill="#a87458" opacity="0.13"/>
<circle cx="1000.13" cy="54.19" r="1.5" fill="#a87458" opacity="0.18"/>
<circle cx="601.81" cy="223.12" r="1.2" fill="#a87458" opacity="0.24"/>
<circle cx="923.75" cy="164.28" r="1.0" fill="#a87458" opacity="0.12"/>
<circle cx="560" cy="145.46" r="0.6" fill="#a87458" opacity="0.33"/>
<circle cx="958.55" cy="140.23" r="1.5" fill="#a87458" opacity="0.24"/>
<circle cx="710.8" cy="187.16" r="1.0" fill="#a87458" opacity="0.16"/>
<circle cx="855.59" cy="289.75" r="1.5" fill="#a87458" opacity="0.14"/>
<circle cx="897.44" cy="133.57" r="1.0" fill="#a87458" opacity="0.30"/>
<circle cx="748.51" cy="280.39" r="0.8" fill="#a87458" opacity="0.25"/>
<circle cx="603.66" cy="17.76" r="1.2" fill="#a87458" opacity="0.32"/>
<circle cx="922.18" cy="272.43" r="1.5" fill="#a87458" opacity="0.18"/>
<circle cx="685.54" cy="177.35" r="0.6" fill="#a87458" opacity="0.23"/>
<circle cx="668.57" cy="209.18" r="1.0" fill="#a87458" opacity="0.14"/>
<circle cx="848.6" cy="112.82" r="1.5" fill="#a87458" opacity="0.23"/>
<circle cx="887.43" cy="242.58" r="1.2" fill="#a87458" opacity="0.16"/>
<circle cx="965.29" cy="58.62" r="1.2" fill="#a87458" opacity="0.34"/>
<circle cx="722.61" cy="21.05" r="0.8" fill="#a87458" opacity="0.34"/>
<circle cx="975.98" cy="97.46" r="1.2" fill="#a87458" opacity="0.25"/>
<circle cx="555.46" cy="125.95" r="1.2" fill="#a87458" opacity="0.35"/>
<circle cx="575.7" cy="72.48" r="0.8" fill="#a87458" opacity="0.29"/>
<circle cx="862.26" cy="39.81" r="0.6" fill="#a87458" opacity="0.27"/>
<circle cx="917.65" cy="8.53" r="1.0" fill="#a87458" opacity="0.34"/>
<circle cx="859.42" cy="129.91" r="1.2" fill="#a87458" opacity="0.23"/>
<circle cx="672.99" cy="166.47" r="0.8" fill="#a87458" opacity="0.17"/>
<circle cx="982.35" cy="48.1" r="0.8" fill="#a87458" opacity="0.28"/>
<circle cx="755.38" cy="120.32" r="0.6" fill="#a87458" opacity="0.15"/>
<circle cx="564.27" cy="223.45" r="0.8" fill="#a87458" opacity="0.19"/>
<circle cx="839.32" cy="44.27" r="0.8" fill="#a87458" opacity="0.13"/>
<circle cx="983.83" cy="159.39" r="1.2" fill="#a87458" opacity="0.30"/>
<circle cx="739.61" cy="58.81" r="0.6" fill="#a87458" opacity="0.18"/>
<circle cx="599.8" cy="48.4" r="0.8" fill="#a87458" opacity="0.21"/>
<circle cx="973.24" cy="179.05" r="0.8" fill="#a87458" opacity="0.12"/>
<circle cx="710.72" cy="47.61" r="1.2" fill="#a87458" opacity="0.18"/>
<circle cx="703.07" cy="277.99" r="1.2" fill="#a87458" opacity="0.14"/>
<circle cx="931.1" cy="141.73" r="1.0" fill="#a87458" opacity="0.24"/>
<circle cx="934.43" cy="133.1" r="1.2" fill="#a87458" opacity="0.23"/>
<circle cx="788.15" cy="133.05" r="1.5" fill="#a87458" opacity="0.22"/>
<circle cx="716.76" cy="222.63" r="1.0" fill="#a87458" opacity="0.33"/>
<circle cx="931.78" cy="58.15" r="0.8" fill="#a87458" opacity="0.19"/>
<circle cx="927.9" cy="44.16" r="1.5" fill="#a87458" opacity="0.35"/>
<circle cx="728.5" cy="255.71" r="0.6" fill="#a87458" opacity="0.25"/>
<circle cx="612.14" cy="41.92" r="1.2" fill="#a87458" opacity="0.35"/>
<circle cx="856.37" cy="156.69" r="1.0" fill="#a87458" opacity="0.14"/>
<circle cx="789.2" cy="132.74" r="0.8" fill="#a87458" opacity="0.26"/>
<circle cx="640.18" cy="137.03" r="1.5" fill="#a87458" opacity="0.21"/>
<circle cx="686.29" cy="109.16" r="1.5" fill="#a87458" opacity="0.30"/>
<circle cx="873.82" cy="105.04" r="1.0" fill="#a87458" opacity="0.19"/>
<circle cx="991.22" cy="83.88" r="0.6" fill="#a87458" opacity="0.26"/>
<circle cx="641.46" cy="290.7" r="0.8" fill="#a87458" opacity="0.18"/>
<circle cx="986.69" cy="136.08" r="1.2" fill="#a87458" opacity="0.20"/>
<circle cx="904.14" cy="57.13" r="1.5" fill="#a87458" opacity="0.24"/>
<circle cx="743.44" cy="183.07" r="0.6" fill="#a87458" opacity="0.22"/>
<circle cx="793.59" cy="181" r="1.0" fill="#a87458" opacity="0.13"/>
<circle cx="934.63" cy="116.45" r="0.6" fill="#a87458" opacity="0.20"/>
<circle cx="638.38" cy="163.38" r="0.6" fill="#a87458" opacity="0.22"/>
<circle cx="940.64" cy="209.74" r="1.0" fill="#a87458" opacity="0.12"/>
<circle cx="711.27" cy="112.75" r="1.2" fill="#a87458" opacity="0.21"/>
<circle cx="840.75" cy="256.41" r="1.5" fill="#a87458" opacity="0.23"/>
<circle cx="688.72" cy="7.01" r="0.6" fill="#a87458" opacity="0.26"/>
<circle cx="603.6" cy="30.24" r="1.0" fill="#a87458" opacity="0.22"/>
<circle cx="630.15" cy="15.09" r="1.0" fill="#a87458" opacity="0.24"/>
<circle cx="880.42" cy="243.1" r="0.8" fill="#a87458" opacity="0.22"/>
<circle cx="854.97" cy="41.41" r="1.2" fill="#a87458" opacity="0.17"/>
<circle cx="603.32" cy="94.4" r="1.5" fill="#a87458" opacity="0.16"/>
<circle cx="920.32" cy="177.67" r="0.6" fill="#a87458" opacity="0.22"/>
<circle cx="907.54" cy="116.1" r="1.2" fill="#a87458" opacity="0.31"/>
<circle cx="624.03" cy="85.14" r="1.2" fill="#a87458" opacity="0.17"/>
<circle cx="833.37" cy="174.03" r="1.0" fill="#a87458" opacity="0.22"/>
<circle cx="583.93" cy="286.05" r="0.6" fill="#a87458" opacity="0.13"/>
<circle cx="945.13" cy="219.62" r="1.0" fill="#a87458" opacity="0.14"/>
<circle cx="543.39" cy="143.78" r="1.2" fill="#a87458" opacity="0.27"/>
<circle cx="582.6" cy="195.11" r="1.2" fill="#a87458" opacity="0.32"/>
<circle cx="643.64" cy="98.97" r="1.2" fill="#a87458" opacity="0.34"/>
<circle cx="563.03" cy="154.64" r="1.5" fill="#a87458" opacity="0.24"/>
<circle cx="804.72" cy="31.31" r="0.8" fill="#a87458" opacity="0.31"/>
<circle cx="920.66" cy="268.69" r="1.2" fill="#a87458" opacity="0.19"/>
<circle cx="993.7" cy="195.51" r="1.5" fill="#a87458" opacity="0.17"/>
<circle cx="804.33" cy="104.68" r="1.5" fill="#a87458" opacity="0.15"/>
<circle cx="785.12" cy="183.69" r="1.0" fill="#a87458" opacity="0.19"/>
<circle cx="937.23" cy="173.64" r="1.5" fill="#a87458" opacity="0.17"/>
<circle cx="566.72" cy="130.36" r="1.0" fill="#a87458" opacity="0.26"/>
<circle cx="767.5" cy="250.33" r="0.8" fill="#a87458" opacity="0.31"/>
<circle cx="973.13" cy="41.12" r="1.5" fill="#a87458" opacity="0.21"/>
<circle cx="637.13" cy="60.14" r="0.6" fill="#a87458" opacity="0.20"/>
<circle cx="653.31" cy="257.82" r="0.6" fill="#a87458" opacity="0.17"/>
<circle cx="708.88" cy="70.68" r="1.0" fill="#a87458" opacity="0.18"/>
<circle cx="660.93" cy="204.83" r="1.0" fill="#a87458" opacity="0.29"/>
<circle cx="635.13" cy="93.58" r="0.8" fill="#a87458" opacity="0.25"/>
<circle cx="652.66" cy="206.39" r="0.8" fill="#a87458" opacity="0.31"/>
<circle cx="707.89" cy="73.21" r="1.5" fill="#a87458" opacity="0.21"/>
<circle cx="788.8" cy="177.36" r="1.0" fill="#a87458" opacity="0.22"/>
<circle cx="564.92" cy="231.21" r="1.2" fill="#a87458" opacity="0.23"/>
<circle cx="807.07" cy="83.51" r="1.2" fill="#a87458" opacity="0.28"/>
<circle cx="641.73" cy="239.98" r="1.2" fill="#a87458" opacity="0.20"/>
<circle cx="999.93" cy="144.69" r="0.8" fill="#a87458" opacity="0.15"/>
<circle cx="733.08" cy="253.34" r="0.8" fill="#a87458" opacity="0.25"/>
<circle cx="588.84" cy="157.5" r="1.0" fill="#a87458" opacity="0.23"/>
<circle cx="788.71" cy="252.99" r="1.2" fill="#a87458" opacity="0.21"/>
<circle cx="558.38" cy="105.98" r="0.8" fill="#a87458" opacity="0.26"/>
<circle cx="864.03" cy="285" r="1.5" fill="#a87458" opacity="0.19"/>
<circle cx="952.07" cy="259.11" r="1.5" fill="#a87458" opacity="0.19"/>
<circle cx="728.9" cy="270.24" r="1.0" fill="#a87458" opacity="0.33"/>
<circle cx="734.83" cy="166.22" r="1.0" fill="#a87458" opacity="0.22"/>
<circle cx="710.33" cy="58.72" r="1.0" fill="#a87458" opacity="0.28"/>
<circle cx="799.44" cy="116.88" r="0.6" fill="#a87458" opacity="0.19"/>
<circle cx="614.05" cy="267.83" r="1.2" fill="#a87458" opacity="0.16"/>
<circle cx="721.6" cy="62.92" r="1.2" fill="#a87458" opacity="0.25"/>
<circle cx="708.33" cy="213.3" r="1.5" fill="#a87458" opacity="0.23"/>
<circle cx="632.32" cy="150.95" r="0.8" fill="#a87458" opacity="0.15"/>
<circle cx="794.58" cy="40.43" r="1.2" fill="#a87458" opacity="0.32"/>
<circle cx="777.69" cy="120.23" r="0.6" fill="#a87458" opacity="0.23"/>
<circle cx="855.77" cy="72.68" r="1.0" fill="#a87458" opacity="0.15"/>
<circle cx="977.91" cy="142.87" r="1.2" fill="#a87458" opacity="0.15"/>
<circle cx="710" cy="201.27" r="1.0" fill="#a87458" opacity="0.25"/>
<circle cx="775.48" cy="63.86" r="0.8" fill="#a87458" opacity="0.18"/>
<circle cx="658.62" cy="106.08" r="1.0" fill="#a87458" opacity="0.33"/>
<circle cx="584.63" cy="207.51" r="0.6" fill="#a87458" opacity="0.17"/>
<circle cx="750.62" cy="284.71" r="1.0" fill="#a87458" opacity="0.31"/>
<circle cx="604.7" cy="19.15" r="1.2" fill="#a87458" opacity="0.18"/>
<circle cx="774.57" cy="113.13" r="1.2" fill="#a87458" opacity="0.29"/>
<circle cx="772.42" cy="202.86" r="1.2" fill="#a87458" opacity="0.34"/>
<circle cx="738.07" cy="91.17" r="1.0" fill="#a87458" opacity="0.25"/>
<circle cx="718.68" cy="20.28" r="0.8" fill="#a87458" opacity="0.22"/>
<circle cx="539.68" cy="232.41" r="0.8" fill="#a87458" opacity="0.24"/>
<circle cx="980.3" cy="248.63" r="1.0" fill="#a87458" opacity="0.18"/>
<circle cx="829.87" cy="167.65" r="1.0" fill="#a87458" opacity="0.17"/>
<circle cx="612.36" cy="286.44" r="0.6" fill="#a87458" opacity="0.23"/>
<circle cx="880.92" cy="49.59" r="1.5" fill="#a87458" opacity="0.20"/>
<circle cx="916.34" cy="215.27" r="1.0" fill="#a87458" opacity="0.15"/>
<circle cx="828.3" cy="259.04" r="0.8" fill="#a87458" opacity="0.14"/>
<circle cx="862.12" cy="186.27" r="1.5" fill="#a87458" opacity="0.21"/>
<circle cx="750.03" cy="290.3" r="1.5" fill="#a87458" opacity="0.22"/>
<circle cx="620.54" cy="242.63" r="0.6" fill="#a87458" opacity="0.18"/>
<circle cx="862.47" cy="55.69" r="0.6" fill="#a87458" opacity="0.20"/>
<circle cx="875.3" cy="244.76" r="1.0" fill="#a87458" opacity="0.14"/>
<circle cx="910.41" cy="117.72" r="1.5" fill="#a87458" opacity="0.22"/>
<circle cx="848.01" cy="100.09" r="0.8" fill="#a87458" opacity="0.22"/>
<circle cx="648.55" cy="8.64" r="0.8" fill="#a87458" opacity="0.17"/>
<circle cx="731.55" cy="34.33" r="1.0" fill="#a87458" opacity="0.35"/>
<circle cx="592.09" cy="196.94" r="0.8" fill="#a87458" opacity="0.19"/>
<circle cx="550.48" cy="14.55" r="1.0" fill="#a87458" opacity="0.17"/>
<circle cx="749.26" cy="152.52" r="1.5" fill="#a87458" opacity="0.21"/>
<circle cx="954.81" cy="66.6" r="1.5" fill="#a87458" opacity="0.22"/>
<circle cx="681.8" cy="24.93" r="1.2" fill="#a87458" opacity="0.24"/>
<circle cx="585.17" cy="271.09" r="1.5" fill="#a87458" opacity="0.34"/>
<circle cx="607.53" cy="155.04" r="1.0" fill="#a87458" opacity="0.35"/>
<circle cx="616.87" cy="111.38" r="1.0" fill="#a87458" opacity="0.15"/>
<circle cx="770.27" cy="143.7" r="0.8" fill="#a87458" opacity="0.29"/>
<circle cx="895.51" cy="12.8" r="0.6" fill="#a87458" opacity="0.23"/>
<circle cx="541.18" cy="208.92" r="1.2" fill="#a87458" opacity="0.33"/>
<circle cx="561.19" cy="199.44" r="1.0" fill="#a87458" opacity="0.31"/>
<circle cx="766.53" cy="228.93" r="0.8" fill="#a87458" opacity="0.19"/>
<circle cx="799.76" cy="122.65" r="0.6" fill="#a87458" opacity="0.15"/>
<circle cx="854.26" cy="74.68" r="0.8" fill="#a87458" opacity="0.29"/>
<circle cx="784.8" cy="226.14" r="1.5" fill="#a87458" opacity="0.15"/>
<circle cx="615.17" cy="281.14" r="1.0" fill="#a87458" opacity="0.24"/>
<circle cx="984.51" cy="8.77" r="0.6" fill="#a87458" opacity="0.20"/>
<circle cx="770.4" cy="31.45" r="1.0" fill="#a87458" opacity="0.25"/>
<circle cx="719.99" cy="139.64" r="1.5" fill="#a87458" opacity="0.34"/>
<circle cx="688.5" cy="144.14" r="1.0" fill="#a87458" opacity="0.30"/>
<circle cx="885.22" cy="65.59" r="0.6" fill="#a87458" opacity="0.27"/>
<circle cx="883.33" cy="279.7" r="1.2" fill="#a87458" opacity="0.29"/>
<circle cx="872.24" cy="178" r="0.8" fill="#a87458" opacity="0.35"/>
<circle cx="561.5" cy="121.59" r="1.2" fill="#a87458" opacity="0.16"/>
<circle cx="584.4" cy="57.91" r="1.5" fill="#a87458" opacity="0.22"/>
<circle cx="738.72" cy="127.11" r="1.5" fill="#a87458" opacity="0.20"/>
<circle cx="738.59" cy="18.4" r="1.2" fill="#a87458" opacity="0.20"/>
<circle cx="874.9" cy="84.66" r="0.8" fill="#a87458" opacity="0.15"/>
<circle cx="945.99" cy="225.21" r="0.6" fill="#a87458" opacity="0.27"/>
<circle cx="875.94" cy="36.57" r="1.2" fill="#a87458" opacity="0.23"/>
<circle cx="714.24" cy="150.38" r="1.2" fill="#a87458" opacity="0.26"/>
<circle cx="758.61" cy="23.61" r="1.5" fill="#a87458" opacity="0.28"/>
<circle cx="962.65" cy="62.4" r="0.6" fill="#a87458" opacity="0.35"/>
<circle cx="602.84" cy="228.33" r="0.6" fill="#a87458" opacity="0.15"/>
<circle cx="814.33" cy="276.9" r="1.0" fill="#a87458" opacity="0.25"/>
<circle cx="598.57" cy="127.31" r="0.8" fill="#a87458" opacity="0.16"/>
<circle cx="858.69" cy="185.6" r="1.2" fill="#a87458" opacity="0.19"/>
<circle cx="744.07" cy="271.53" r="1.0" fill="#a87458" opacity="0.25"/>
<circle cx="812.48" cy="104.75" r="1.5" fill="#a87458" opacity="0.21"/>
<circle cx="990.83" cy="87.34" r="0.6" fill="#a87458" opacity="0.17"/>
<circle cx="719.34" cy="250.55" r="1.0" fill="#a87458" opacity="0.17"/>
<circle cx="956.22" cy="101.94" r="1.0" fill="#a87458" opacity="0.30"/>
<circle cx="924.71" cy="66.11" r="1.2" fill="#a87458" opacity="0.12"/>
<circle cx="837.39" cy="239.6" r="0.8" fill="#a87458" opacity="0.33"/>
<circle cx="887.67" cy="240.64" r="0.6" fill="#a87458" opacity="0.30"/>
<circle cx="698.23" cy="89.86" r="1.0" fill="#a87458" opacity="0.34"/>
<circle cx="958.14" cy="267.54" r="1.5" fill="#a87458" opacity="0.30"/>
<circle cx="749.32" cy="78.56" r="1.5" fill="#a87458" opacity="0.33"/>
<circle cx="661.93" cy="89.12" r="1.5" fill="#a87458" opacity="0.17"/>
<circle cx="966.16" cy="95.68" r="0.6" fill="#a87458" opacity="0.14"/>
<circle cx="954.95" cy="120.61" r="1.0" fill="#a87458" opacity="0.30"/>
<circle cx="899.51" cy="74.81" r="0.6" fill="#a87458" opacity="0.26"/>
<circle cx="595.59" cy="56.37" r="1.0" fill="#a87458" opacity="0.20"/>
<circle cx="617.52" cy="100.45" r="0.6" fill="#a87458" opacity="0.30"/>
<circle cx="820.22" cy="26.41" r="1.0" fill="#a87458" opacity="0.25"/>
<circle cx="548.27" cy="133.07" r="1.2" fill="#a87458" opacity="0.35"/>
<circle cx="616.97" cy="7.24" r="0.8" fill="#a87458" opacity="0.20"/>
<circle cx="934.46" cy="86.25" r="1.5" fill="#a87458" opacity="0.17"/>
<circle cx="752.35" cy="141.86" r="1.0" fill="#a87458" opacity="0.29"/>
<circle cx="971.42" cy="101.03" r="1.5" fill="#a87458" opacity="0.23"/>
<circle cx="748.09" cy="141.65" r="1.0" fill="#a87458" opacity="0.16"/>
<circle cx="993.38" cy="39.68" r="0.8" fill="#a87458" opacity="0.16"/>
<circle cx="907.18" cy="81.25" r="0.6" fill="#a87458" opacity="0.20"/>
<circle cx="541.05" cy="70.05" r="1.0" fill="#a87458" opacity="0.32"/>
<circle cx="992.6" cy="22.15" r="1.2" fill="#a87458" opacity="0.16"/>
<circle cx="835.69" cy="150.07" r="1.0" fill="#a87458" opacity="0.29"/>
<circle cx="907.42" cy="291.71" r="1.2" fill="#a87458" opacity="0.32"/>
<circle cx="792.95" cy="29.99" r="0.6" fill="#a87458" opacity="0.27"/>
<circle cx="632.33" cy="36.73" r="0.6" fill="#a87458" opacity="0.27"/>
<circle cx="552.25" cy="67.08" r="1.2" fill="#a87458" opacity="0.13"/>
<circle cx="775.42" cy="274.19" r="0.8" fill="#a87458" opacity="0.20"/>
<circle cx="745.07" cy="286.11" r="1.0" fill="#a87458" opacity="0.30"/>
<circle cx="862.26" cy="11.07" r="0.8" fill="#a87458" opacity="0.28"/>
<circle cx="838.04" cy="11.33" r="1.5" fill="#a87458" opacity="0.22"/>
<circle cx="863.73" cy="106.36" r="1.5" fill="#a87458" opacity="0.24"/>
<circle cx="848.91" cy="45.91" r="1.0" fill="#a87458" opacity="0.32"/>
<circle cx="669.3" cy="73.78" r="0.8" fill="#a87458" opacity="0.25"/>
<circle cx="693.52" cy="236.86" r="0.8" fill="#a87458" opacity="0.24"/>
<circle cx="862.42" cy="97.65" r="1.0" fill="#a87458" opacity="0.20"/>
<circle cx="886.69" cy="55.94" r="1.0" fill="#a87458" opacity="0.14"/>
<circle cx="968.7" cy="214.97" r="1.5" fill="#a87458" opacity="0.22"/>
<circle cx="986.07" cy="152.42" r="0.8" fill="#a87458" opacity="0.33"/>
<circle cx="828.78" cy="9.16" r="1.0" fill="#a87458" opacity="0.22"/>
<circle cx="564.33" cy="189.59" r="1.5" fill="#a87458" opacity="0.27"/>
<circle cx="817.61" cy="183.01" r="1.2" fill="#a87458" opacity="0.24"/>
<circle cx="883.66" cy="228.47" r="0.8" fill="#a87458" opacity="0.31"/>
<circle cx="1001.3" cy="31.87" r="0.6" fill="#a87458" opacity="0.31"/>
<circle cx="901.44" cy="119.79" r="0.8" fill="#a87458" opacity="0.17"/>
<circle cx="660.51" cy="44.89" r="1.5" fill="#a87458" opacity="0.33"/>
<circle cx="660.27" cy="289.55" r="0.8" fill="#a87458" opacity="0.26"/>
<circle cx="649.1" cy="199.39" r="0.6" fill="#a87458" opacity="0.19"/>
<circle cx="844.44" cy="238.7" r="0.6" fill="#a87458" opacity="0.12"/>
<circle cx="742.49" cy="146.32" r="0.6" fill="#a87458" opacity="0.33"/>
<circle cx="833.74" cy="230.15" r="0.8" fill="#a87458" opacity="0.26"/>
<circle cx="809.76" cy="148.48" r="1.5" fill="#a87458" opacity="0.23"/>
<circle cx="650.4" cy="64.49" r="0.6" fill="#a87458" opacity="0.20"/>
<circle cx="787.44" cy="106.02" r="0.6" fill="#a87458" opacity="0.16"/>
<circle cx="758.38" cy="100.1" r="0.8" fill="#a87458" opacity="0.32"/>
<circle cx="807.89" cy="74.98" r="1.5" fill="#a87458" opacity="0.27"/>
<circle cx="567.71" cy="221.11" r="0.8" fill="#a87458" opacity="0.28"/>
<circle cx="686.63" cy="169.67" r="1.5" fill="#a87458" opacity="0.18"/>
<circle cx="938.19" cy="240.3" r="1.5" fill="#a87458" opacity="0.21"/>
<circle cx="749.33" cy="197.96" r="1.2" fill="#a87458" opacity="0.13"/>
<circle cx="965.39" cy="246.79" r="1.5" fill="#a87458" opacity="0.14"/>
<circle cx="964.19" cy="126.44" r="1.0" fill="#a87458" opacity="0.15"/>
<circle cx="622.52" cy="234.56" r="0.6" fill="#a87458" opacity="0.21"/>
<circle cx="559.36" cy="203.47" r="1.2" fill="#a87458" opacity="0.29"/>
<circle cx="857" cy="247.83" r="0.6" fill="#a87458" opacity="0.34"/>
<circle cx="975.05" cy="59.35" r="1.0" fill="#a87458" opacity="0.32"/>
<circle cx="881.64" cy="271.68" r="1.5" fill="#a87458" opacity="0.20"/>
<circle cx="774.13" cy="220.33" r="1.2" fill="#a87458" opacity="0.21"/>
<circle cx="703.53" cy="182.13" r="0.8" fill="#a87458" opacity="0.20"/>
<circle cx="879.97" cy="76.77" r="0.8" fill="#a87458" opacity="0.23"/>
<circle cx="629.29" cy="169.5" r="1.2" fill="#a87458" opacity="0.35"/>
<circle cx="890.53" cy="157.79" r="1.2" fill="#a87458" opacity="0.32"/>
<circle cx="615.48" cy="242.8" r="1.0" fill="#a87458" opacity="0.35"/>
<circle cx="890.71" cy="118.73" r="0.8" fill="#a87458" opacity="0.21"/>
<circle cx="588.06" cy="255.72" r="1.5" fill="#a87458" opacity="0.20"/>
<circle cx="905.86" cy="80.9" r="1.2" fill="#a87458" opacity="0.27"/>
<circle cx="897.16" cy="50.85" r="1.0" fill="#a87458" opacity="0.24"/>
<circle cx="671.22" cy="286.21" r="1.5" fill="#a87458" opacity="0.29"/>
<circle cx="667.81" cy="62.36" r="1.2" fill="#a87458" opacity="0.27"/>
<circle cx="637.85" cy="212.31" r="1.5" fill="#a87458" opacity="0.17"/>
<circle cx="942.17" cy="82.09" r="0.8" fill="#a87458" opacity="0.27"/>
<circle cx="887.01" cy="287.08" r="0.6" fill="#a87458" opacity="0.24"/>
<circle cx="982.05" cy="12.51" r="1.5" fill="#a87458" opacity="0.22"/>
<circle cx="931.68" cy="278.95" r="1.5" fill="#a87458" opacity="0.25"/>
<circle cx="973.41" cy="95.87" r="1.0" fill="#a87458" opacity="0.15"/>
<circle cx="782.3" cy="80.46" r="0.8" fill="#a87458" opacity="0.31"/>
<circle cx="757.92" cy="222.17" r="1.2" fill="#a87458" opacity="0.18"/>
<circle cx="650.16" cy="199.74" r="1.5" fill="#a87458" opacity="0.30"/>
<circle cx="890.88" cy="30.73" r="1.0" fill="#a87458" opacity="0.12"/>
<circle cx="800.66" cy="146.03" r="0.6" fill="#a87458" opacity="0.25"/>
<circle cx="739.41" cy="40.05" r="1.2" fill="#a87458" opacity="0.19"/>
<circle cx="916.04" cy="108.29" r="1.5" fill="#a87458" opacity="0.21"/>
<circle cx="574.93" cy="283.94" r="0.6" fill="#a87458" opacity="0.28"/>
<circle cx="741.69" cy="215.36" r="1.0" fill="#a87458" opacity="0.25"/>
<circle cx="936.74" cy="175.14" r="1.0" fill="#a87458" opacity="0.18"/>
<circle cx="835.01" cy="77.62" r="1.0" fill="#a87458" opacity="0.32"/>
<circle cx="561.69" cy="28.46" r="1.5" fill="#a87458" opacity="0.12"/>
<circle cx="629.87" cy="71.2" r="0.6" fill="#a87458" opacity="0.17"/>
<circle cx="617.42" cy="225.28" r="0.8" fill="#a87458" opacity="0.21"/>
<circle cx="772.04" cy="13.64" r="0.6" fill="#a87458" opacity="0.31"/>
<circle cx="634.92" cy="230.91" r="1.2" fill="#a87458" opacity="0.30"/>
<circle cx="589.45" cy="32.15" r="0.6" fill="#a87458" opacity="0.25"/>
<circle cx="679.37" cy="244.35" r="0.8" fill="#a87458" opacity="0.16"/>
<circle cx="624.21" cy="203.43" r="0.6" fill="#a87458" opacity="0.32"/>
<circle cx="770.53" cy="50.77" r="0.8" fill="#a87458" opacity="0.17"/>
<circle cx="763.53" cy="122.27" r="0.6" fill="#a87458" opacity="0.32"/>
<circle cx="645.88" cy="92.65" r="1.0" fill="#a87458" opacity="0.32"/>
<circle cx="835.59" cy="52.45" r="1.5" fill="#a87458" opacity="0.13"/>
<circle cx="590.02" cy="229.95" r="0.6" fill="#a87458" opacity="0.32"/>
<circle cx="926.73" cy="165.19" r="1.0" fill="#a87458" opacity="0.28"/>
<circle cx="797.07" cy="128.32" r="0.6" fill="#a87458" opacity="0.19"/>
<circle cx="741.74" cy="150.12" r="0.8" fill="#a87458" opacity="0.15"/>
<circle cx="988.33" cy="171.3" r="1.5" fill="#a87458" opacity="0.33"/>
<circle cx="643.75" cy="259.55" r="1.5" fill="#a87458" opacity="0.18"/>
<circle cx="597.1" cy="235.01" r="1.2" fill="#a87458" opacity="0.13"/>
<circle cx="717.68" cy="244.2" r="1.5" fill="#a87458" opacity="0.22"/>
<circle cx="883.81" cy="32.3" r="1.2" fill="#a87458" opacity="0.13"/>
<circle cx="987.96" cy="74.53" r="1.5" fill="#a87458" opacity="0.31"/>
<circle cx="980.9" cy="141" r="1.2" fill="#a87458" opacity="0.19"/>
<circle cx="924.61" cy="38.02" r="1.0" fill="#a87458" opacity="0.26"/>
<circle cx="567.66" cy="275.28" r="1.0" fill="#a87458" opacity="0.13"/>
<circle cx="622.13" cy="41.05" r="1.0" fill="#a87458" opacity="0.28"/>
<circle cx="826.46" cy="140.89" r="0.6" fill="#a87458" opacity="0.32"/>
<circle cx="919.72" cy="210.69" r="1.2" fill="#a87458" opacity="0.13"/>
<circle cx="698.09" cy="247.58" r="1.0" fill="#a87458" opacity="0.17"/>
<circle cx="881.58" cy="98.34" r="1.5" fill="#a87458" opacity="0.19"/>
<circle cx="884.84" cy="115.05" r="1.2" fill="#a87458" opacity="0.18"/>
<circle cx="857.85" cy="67.75" r="1.5" fill="#a87458" opacity="0.34"/>
<circle cx="719.17" cy="281.07" r="1.5" fill="#a87458" opacity="0.32"/>
<circle cx="876.5" cy="162.93" r="1.0" fill="#a87458" opacity="0.28"/>
<circle cx="629.39" cy="154.6" r="1.5" fill="#a87458" opacity="0.21"/>
<circle cx="980.74" cy="187.75" r="1.0" fill="#a87458" opacity="0.30"/>
<circle cx="915.07" cy="47.88" r="1.5" fill="#a87458" opacity="0.12"/>
<circle cx="618.83" cy="285.06" r="1.0" fill="#a87458" opacity="0.29"/>
<circle cx="730.83" cy="236.93" r="1.2" fill="#a87458" opacity="0.24"/>
<circle cx="678.68" cy="122.52" r="1.2" fill="#a87458" opacity="0.30"/>
<circle cx="679.5" cy="209.84" r="1.5" fill="#a87458" opacity="0.26"/>
<circle cx="685.11" cy="37.22" r="1.2" fill="#a87458" opacity="0.26"/>
<circle cx="659.29" cy="139.34" r="0.6" fill="#a87458" opacity="0.35"/>
<circle cx="749.2" cy="169.4" r="1.5" fill="#a87458" opacity="0.32"/>
<circle cx="614.17" cy="37.83" r="1.2" fill="#a87458" opacity="0.28"/>
<circle cx="636.93" cy="131.69" r="0.6" fill="#a87458" opacity="0.29"/>
<circle cx="809.49" cy="89.27" r="1.0" fill="#a87458" opacity="0.14"/>
<circle cx="813.19" cy="60.52" r="0.6" fill="#a87458" opacity="0.13"/>
<circle cx="729.41" cy="117.75" r="1.2" fill="#a87458" opacity="0.32"/>
<circle cx="738.27" cy="11.11" r="0.6" fill="#a87458" opacity="0.21"/>
<circle cx="941.13" cy="135.3" r="0.8" fill="#a87458" opacity="0.16"/>
<circle cx="863.18" cy="57.33" r="1.0" fill="#a87458" opacity="0.15"/>
<circle cx="802.93" cy="265.89" r="1.0" fill="#a87458" opacity="0.26"/>
<circle cx="682.33" cy="189.52" r="1.5" fill="#a87458" opacity="0.18"/>
<circle cx="691.49" cy="7.79" r="1.2" fill="#a87458" opacity="0.28"/>
<circle cx="992.04" cy="17.23" r="1.0" fill="#a87458" opacity="0.34"/>
<circle cx="542.56" cy="77.97" r="1.0" fill="#a87458" opacity="0.25"/>
<circle cx="571.2" cy="186.45" r="0.6" fill="#a87458" opacity="0.21"/>
<circle cx="547.82" cy="135.82" r="1.5" fill="#a87458" opacity="0.15"/>
<circle cx="725.58" cy="50.46" r="1.5" fill="#a87458" opacity="0.14"/>
<circle cx="573.14" cy="40.09" r="0.6" fill="#a87458" opacity="0.18"/>
<circle cx="688.56" cy="134.16" r="1.5" fill="#a87458" opacity="0.13"/>
<circle cx="643.88" cy="28.42" r="0.6" fill="#a87458" opacity="0.23"/>
<circle cx="938.17" cy="76.42" r="0.8" fill="#a87458" opacity="0.31"/>
<circle cx="922.47" cy="55.84" r="1.0" fill="#a87458" opacity="0.21"/>
<circle cx="693.12" cy="35.89" r="0.8" fill="#a87458" opacity="0.22"/>
<circle cx="697.43" cy="57.32" r="0.8" fill="#a87458" opacity="0.14"/>
<circle cx="982.58" cy="140.85" r="1.0" fill="#a87458" opacity="0.26"/>
<circle cx="779.94" cy="150.17" r="1.2" fill="#a87458" opacity="0.14"/>
<circle cx="587.07" cy="27.88" r="1.5" fill="#a87458" opacity="0.18"/>
<circle cx="685.45" cy="190.16" r="0.8" fill="#a87458" opacity="0.16"/>
<circle cx="828.78" cy="243.96" r="1.5" fill="#a87458" opacity="0.24"/>
<circle cx="864.55" cy="252.98" r="0.8" fill="#a87458" opacity="0.20"/>
<circle cx="996.57" cy="232.77" r="0.8" fill="#a87458" opacity="0.14"/>
<circle cx="933.37" cy="121.02" r="0.6" fill="#a87458" opacity="0.18"/>
<circle cx="669.16" cy="95.01" r="1.0" fill="#a87458" opacity="0.22"/>
<circle cx="956.39" cy="101.75" r="1.0" fill="#a87458" opacity="0.20"/>
<circle cx="805.14" cy="168.77" r="0.6" fill="#a87458" opacity="0.32"/>
<circle cx="866.33" cy="62.52" r="1.0" fill="#a87458" opacity="0.25"/>
<circle cx="762.53" cy="168.45" r="1.0" fill="#a87458" opacity="0.28"/>
<circle cx="859.66" cy="283.06" r="0.6" fill="#a87458" opacity="0.23"/>
<circle cx="593.07" cy="148.83" r="0.8" fill="#a87458" opacity="0.20"/>
<circle cx="607.95" cy="101.74" r="1.5" fill="#a87458" opacity="0.18"/>
<circle cx="961.36" cy="93.76" r="1.0" fill="#a87458" opacity="0.16"/>
<circle cx="744.42" cy="43.72" r="0.8" fill="#a87458" opacity="0.19"/>
<circle cx="995.61" cy="176.65" r="1.5" fill="#a87458" opacity="0.17"/>
<circle cx="682.74" cy="98.73" r="0.6" fill="#a87458" opacity="0.30"/>
<circle cx="646.92" cy="286.12" r="0.6" fill="#a87458" opacity="0.18"/>
<circle cx="1000.71" cy="37.89" r="0.8" fill="#a87458" opacity="0.24"/>
<circle cx="764.9" cy="80.79" r="1.0" fill="#a87458" opacity="0.18"/>
<circle cx="671.21" cy="234.47" r="0.6" fill="#a87458" opacity="0.33"/>
<circle cx="593.91" cy="128.57" r="1.5" fill="#a87458" opacity="0.34"/>
<circle cx="873.32" cy="52.8" r="1.5" fill="#a87458" opacity="0.22"/>
<circle cx="665.54" cy="184.65" r="0.6" fill="#a87458" opacity="0.21"/>
<circle cx="543.93" cy="243.93" r="1.5" fill="#a87458" opacity="0.18"/>
<circle cx="843.75" cy="79.8" r="1.0" fill="#a87458" opacity="0.12"/>
<circle cx="881.31" cy="56.33" r="0.8" fill="#a87458" opacity="0.26"/>
<circle cx="573.69" cy="9.43" r="1.2" fill="#a87458" opacity="0.34"/>
<circle cx="986.54" cy="225.22" r="0.8" fill="#a87458" opacity="0.14"/>
<circle cx="894.41" cy="188.89" r="1.5" fill="#a87458" opacity="0.20"/>
<circle cx="637.41" cy="75.73" r="1.5" fill="#a87458" opacity="0.26"/>
<circle cx="817.54" cy="191.3" r="0.6" fill="#a87458" opacity="0.29"/>
<circle cx="769.56" cy="201.96" r="0.8" fill="#a87458" opacity="0.34"/>
<circle cx="889.32" cy="106.88" r="0.6" fill="#a87458" opacity="0.18"/>
<ellipse cx="785.5" cy="96.18" rx="0.7" ry="0.52" fill="#3e281c" opacity="0.68"/>
<ellipse cx="976.5" cy="34.08" rx="0.5" ry="0.56" fill="#2e1e16" opacity="0.59"/>
<ellipse cx="676.14" cy="108.93" rx="1.2" ry="1.13" fill="#4e3222" opacity="0.50"/>
<ellipse cx="945.2" cy="142.74" rx="0.5" ry="0.58" fill="#3e281c" opacity="0.66"/>
<ellipse cx="815.76" cy="87.36" rx="0.8" ry="0.7" fill="#6a4a38" opacity="0.67"/>
<ellipse cx="749.37" cy="187.98" rx="0.6" ry="0.71" fill="#6a4a38" opacity="0.38"/>
<ellipse cx="609.37" cy="96.35" rx="1.5" ry="1.5" fill="#2e1e16" opacity="0.39"/>
<ellipse cx="701.54" cy="98.94" rx="0.5" ry="0.46" fill="#3e281c" opacity="0.47"/>
<line x1="839.7" y1="243.58" x2="841.93" y2="247.81" stroke="#3e281c" stroke-width="0.8" stroke-linecap="round" opacity="0.59"/>
<ellipse cx="620.28" cy="43.85" rx="1.2" ry="1.27" fill="#4e3222" opacity="0.69"/>
<ellipse cx="927.49" cy="280.6" rx="0.7" ry="0.83" fill="#4e3222" opacity="0.62"/>
<ellipse cx="702.53" cy="252.29" rx="0.7" ry="0.51" fill="#4e3222" opacity="0.82"/>
<ellipse cx="957.32" cy="185.28" rx="0.7" ry="0.74" fill="#4e3222" opacity="0.50"/>
<ellipse cx="861.55" cy="34.88" rx="0.8" ry="1.07" fill="#6a4a38" opacity="0.83"/>
<ellipse cx="819.72" cy="133.8" rx="1.2" ry="1.03" fill="#6a4a38" opacity="0.51"/>
<ellipse cx="921.34" cy="41.24" rx="1.0" ry="1.06" fill="#2e1e16" opacity="0.40"/>
<ellipse cx="963.95" cy="215.36" rx="0.6" ry="0.55" fill="#3e281c" opacity="0.35"/>
<line x1="828.52" y1="93.54" x2="830.15" y2="98.49" stroke="#6a4a38" stroke-width="1.0" stroke-linecap="round" opacity="0.76"/>
<ellipse cx="898.72" cy="64.33" rx="1.0" ry="1.53" fill="#4e3222" opacity="0.77"/>
<ellipse cx="984.84" cy="43.99" rx="0.8" ry="0.72" fill="#2e1e16" opacity="0.78"/>
<ellipse cx="903.49" cy="151.9" rx="0.8" ry="1.04" fill="#3e281c" opacity="0.61"/>
<line x1="673.56" y1="19.82" x2="674.69" y2="22.55" stroke="#2e1e16" stroke-width="0.8" stroke-linecap="round" opacity="0.40"/>
<ellipse cx="886.11" cy="45.08" rx="1.2" ry="1.32" fill="#3e281c" opacity="0.56"/>
<line x1="757.78" y1="186.52" x2="756.04" y2="190.6" stroke="#2e1e16" stroke-width="1.0" stroke-linecap="round" opacity="0.53"/>
<ellipse cx="666.42" cy="77.71" rx="1.2" ry="1.43" fill="#2e1e16" opacity="0.40"/>
<ellipse cx="975.61" cy="27.07" rx="1.0" ry="1.23" fill="#3e281c" opacity="0.49"/>
<line x1="842.98" y1="238.9" x2="844.32" y2="243.21" stroke="#2e1e16" stroke-width="1.3" stroke-linecap="round" opacity="0.35"/>
<line x1="602.87" y1="111.29" x2="599.5" y2="113.52" stroke="#6a4a38" stroke-width="0.8" stroke-linecap="round" opacity="0.69"/>
<ellipse cx="711.44" cy="175.86" rx="0.7" ry="0.94" fill="#2e1e16" opacity="0.81"/>
<ellipse cx="896.39" cy="60.49" rx="1.0" ry="1.47" fill="#3e281c" opacity="0.43"/>
<ellipse cx="874.39" cy="151.75" rx="0.5" ry="0.8" fill="#3e281c" opacity="0.65"/>
<ellipse cx="634.17" cy="180.97" rx="1.2" ry="1.6" fill="#2e1e16" opacity="0.82"/>
<ellipse cx="968.44" cy="257.16" rx="1.5" ry="1.23" fill="#6a4a38" opacity="0.57"/>
<ellipse cx="758.61" cy="223.17" rx="0.5" ry="0.69" fill="#2e1e16" opacity="0.55"/>
<line x1="697.25" y1="37.9" x2="696.56" y2="42.18" stroke="#6a4a38" stroke-width="1.0" stroke-linecap="round" opacity="0.64"/>
<ellipse cx="735.39" cy="284.22" rx="0.8" ry="1.24" fill="#6a4a38" opacity="0.72"/>
<line x1="887.07" y1="162.46" x2="886.52" y2="166.19" stroke="#2e1e16" stroke-width="0.8" stroke-linecap="round" opacity="0.62"/>
<ellipse cx="584.77" cy="286.61" rx="0.7" ry="0.99" fill="#2e1e16" opacity="0.56"/>
<ellipse cx="800.17" cy="34.71" rx="1.5" ry="2.35" fill="#6a4a38" opacity="0.61"/>
<ellipse cx="771.82" cy="181.51" rx="1.0" ry="0.62" fill="#6a4a38" opacity="0.74"/>
<ellipse cx="947.57" cy="75.31" rx="1.2" ry="1.26" fill="#2e1e16" opacity="0.87"/>
<ellipse cx="806.69" cy="96.73" rx="0.6" ry="0.52" fill="#2e1e16" opacity="0.51"/>
<ellipse cx="771.32" cy="285.98" rx="0.8" ry="1.07" fill="#3e281c" opacity="0.40"/>
<line x1="689.51" y1="208.67" x2="685.68" y2="211.48" stroke="#3e281c" stroke-width="1.3" stroke-linecap="round" opacity="0.81"/>
<ellipse cx="859.48" cy="181.25" rx="1.0" ry="1.5" fill="#2e1e16" opacity="0.37"/>
<ellipse cx="573.81" cy="179.8" rx="1.5" ry="2.22" fill="#4e3222" opacity="0.76"/>
<ellipse cx="587.99" cy="262.11" rx="0.5" ry="0.38" fill="#3e281c" opacity="0.50"/>
<line x1="787.73" y1="156.99" x2="790.18" y2="159.83" stroke="#3e281c" stroke-width="0.8" stroke-linecap="round" opacity="0.39"/>
<ellipse cx="606.05" cy="275.03" rx="0.8" ry="1.15" fill="#6a4a38" opacity="0.55"/>
<ellipse cx="666.19" cy="153.78" rx="0.5" ry="0.5" fill="#6a4a38" opacity="0.70"/>
<line x1="802.81" y1="34.64" x2="807.03" y2="37.77" stroke="#4e3222" stroke-width="0.8" stroke-linecap="round" opacity="0.66"/>
<line x1="951.92" y1="82.7" x2="950.32" y2="86.45" stroke="#6a4a38" stroke-width="1.0" stroke-linecap="round" opacity="0.73"/>
<ellipse cx="596.68" cy="191.89" rx="1.5" ry="1.66" fill="#2e1e16" opacity="0.44"/>
<ellipse cx="815.3" cy="145.84" rx="0.5" ry="0.54" fill="#4e3222" opacity="0.85"/>
<line x1="630.73" y1="136.59" x2="630.82" y2="139.96" stroke="#6a4a38" stroke-width="1.3" stroke-linecap="round" opacity="0.60"/>
<ellipse cx="639.99" cy="113.01" rx="1.0" ry="0.66" fill="#3e281c" opacity="0.87"/>
<line x1="983.46" y1="151.06" x2="982.37" y2="153.81" stroke="#3e281c" stroke-width="0.8" stroke-linecap="round" opacity="0.59"/>
<line x1="961.37" y1="168.87" x2="962.25" y2="174.65" stroke="#4e3222" stroke-width="0.8" stroke-linecap="round" opacity="0.52"/>
<ellipse cx="995.46" cy="60.8" rx="0.7" ry="0.8" fill="#2e1e16" opacity="0.75"/>
<line x1="903.53" y1="93.52" x2="904.13" y2="95.44" stroke="#3e281c" stroke-width="0.8" stroke-linecap="round" opacity="0.63"/>
<line x1="619.96" y1="185.5" x2="624.87" y2="188.52" stroke="#2e1e16" stroke-width="0.8" stroke-linecap="round" opacity="0.42"/>
<line x1="810.68" y1="117.61" x2="807.05" y2="121.11" stroke="#3e281c" stroke-width="1.3" stroke-linecap="round" opacity="0.77"/>
<ellipse cx="867.64" cy="92.23" rx="0.7" ry="0.89" fill="#3e281c" opacity="0.68"/>
<line x1="869.42" y1="137.65" x2="868.52" y2="141.75" stroke="#4e3222" stroke-width="1.3" stroke-linecap="round" opacity="0.77"/>
<line x1="724.44" y1="128.78" x2="722.57" y2="130.63" stroke="#6a4a38" stroke-width="0.8" stroke-linecap="round" opacity="0.74"/>
<line x1="645.34" y1="266.35" x2="649.43" y2="269.93" stroke="#4e3222" stroke-width="1.0" stroke-linecap="round" opacity="0.61"/>
<line x1="691.5" y1="90.48" x2="693.26" y2="94.22" stroke="#4e3222" stroke-width="1.3" stroke-linecap="round" opacity="0.36"/>
<ellipse cx="970.87" cy="272.58" rx="1.2" ry="1.26" fill="#2e1e16" opacity="0.56"/>
<ellipse cx="837.49" cy="109.4" rx="1.2" ry="1.08" fill="#4e3222" opacity="0.74"/>
<line x1="657.8" y1="268.01" x2="662.42" y2="271.76" stroke="#3e281c" stroke-width="1.3" stroke-linecap="round" opacity="0.61"/>
<ellipse cx="821.46" cy="61.01" rx="0.7" ry="1.01" fill="#3e281c" opacity="0.47"/>
<line x1="810.59" y1="234.16" x2="805.92" y2="236.83" stroke="#4e3222" stroke-width="1.0" stroke-linecap="round" opacity="0.88"/>
<ellipse cx="693.55" cy="57.04" rx="1.2" ry="1.53" fill="#2e1e16" opacity="0.59"/>
<ellipse cx="833.07" cy="80.64" rx="1.0" ry="1.27" fill="#6a4a38" opacity="0.44"/>
<ellipse cx="835.74" cy="262.63" rx="0.8" ry="1.01" fill="#6a4a38" opacity="0.77"/>
<ellipse cx="696.93" cy="54.68" rx="1.2" ry="0.81" fill="#2e1e16" opacity="0.56"/>
<ellipse cx="815.88" cy="134.96" rx="0.5" ry="0.39" fill="#3e281c" opacity="0.77"/>
<ellipse cx="985.28" cy="287.82" rx="0.7" ry="1.06" fill="#2e1e16" opacity="0.47"/>
<ellipse cx="889.33" cy="282.37" rx="0.7" ry="0.47" fill="#2e1e16" opacity="0.79"/>
<ellipse cx="616.35" cy="238.89" rx="0.8" ry="1.27" fill="#2e1e16" opacity="0.82"/>
<ellipse cx="916.62" cy="175.15" rx="0.5" ry="0.67" fill="#3e281c" opacity="0.51"/>
<ellipse cx="982.23" cy="53.35" rx="0.7" ry="0.5" fill="#6a4a38" opacity="0.62"/>
<line x1="595.1" y1="209.02" x2="592.81" y2="211.76" stroke="#2e1e16" stroke-width="1.0" stroke-linecap="round" opacity="0.88"/>
<ellipse cx="947.79" cy="224.73" rx="1.0" ry="0.89" fill="#3e281c" opacity="0.64"/>
<ellipse cx="769.62" cy="37.92" rx="1.0" ry="0.82" fill="#3e281c" opacity="0.65"/>
<line x1="576.54" y1="272.76" x2="575.07" y2="275.53" stroke="#2e1e16" stroke-width="1.3" stroke-linecap="round" opacity="0.65"/>
<line x1="549.3" y1="45.62" x2="546.82" y2="50.21" stroke="#6a4a38" stroke-width="0.8" stroke-linecap="round" opacity="0.62"/>
<ellipse cx="702.23" cy="203.32" rx="0.5" ry="0.53" fill="#6a4a38" opacity="0.60"/>
<ellipse cx="875.6" cy="73.55" rx="0.5" ry="0.38" fill="#4e3222" opacity="0.90"/>
<line x1="572.03" y1="98.22" x2="574.93" y2="99.63" stroke="#4e3222" stroke-width="1.0" stroke-linecap="round" opacity="0.40"/>
<ellipse cx="800.57" cy="64.76" rx="1.2" ry="0.79" fill="#4e3222" opacity="0.67"/>
<ellipse cx="917.23" cy="124.62" rx="1.2" ry="1" fill="#3e281c" opacity="0.74"/>
<ellipse cx="747.51" cy="224.6" rx="0.5" ry="0.58" fill="#2e1e16" opacity="0.64"/>
<ellipse cx="560.66" cy="197.55" rx="1.5" ry="2.24" fill="#3e281c" opacity="0.48"/>
<ellipse cx="824.72" cy="40.64" rx="0.8" ry="1.2" fill="#6a4a38" opacity="0.88"/>
<ellipse cx="814.91" cy="250.23" rx="1.5" ry="1.17" fill="#6a4a38" opacity="0.49"/>
<line x1="724.99" y1="269.44" x2="727.21" y2="271.48" stroke="#3e281c" stroke-width="1.0" stroke-linecap="round" opacity="0.61"/>
<ellipse cx="996.96" cy="141.73" rx="1.5" ry="1.94" fill="#6a4a38" opacity="0.67"/>
<ellipse cx="924.3" cy="128.79" rx="1.0" ry="1.54" fill="#6a4a38" opacity="0.57"/>
<ellipse cx="801.65" cy="147.65" rx="0.8" ry="0.63" fill="#2e1e16" opacity="0.39"/>
<ellipse cx="977.79" cy="274.2" rx="0.7" ry="0.77" fill="#2e1e16" opacity="0.78"/>
<line x1="542.24" y1="24.9" x2="545.86" y2="26.92" stroke="#6a4a38" stroke-width="1.3" stroke-linecap="round" opacity="0.56"/>
<ellipse cx="892.85" cy="71.93" rx="1.5" ry="0.93" fill="#2e1e16" opacity="0.89"/>
<ellipse cx="766.54" cy="153.98" rx="0.5" ry="0.74" fill="#3e281c" opacity="0.78"/>
<ellipse cx="772.48" cy="176.78" rx="1.5" ry="0.92" fill="#2e1e16" opacity="0.44"/>
<ellipse cx="813.94" cy="209.84" rx="1.0" ry="1.31" fill="#4e3222" opacity="0.42"/>
<ellipse cx="602.31" cy="288.56" rx="1.2" ry="1.25" fill="#2e1e16" opacity="0.74"/>
<line x1="833.85" y1="287.04" x2="831.76" y2="290.36" stroke="#4e3222" stroke-width="1.3" stroke-linecap="round" opacity="0.81"/>
<ellipse cx="948.88" cy="161.73" rx="0.5" ry="0.52" fill="#2e1e16" opacity="0.61"/>
<ellipse cx="874.83" cy="125.46" rx="1.2" ry="1.55" fill="#6a4a38" opacity="0.83"/>
<line x1="575.32" y1="121.04" x2="577.96" y2="125.63" stroke="#2e1e16" stroke-width="1.0" stroke-linecap="round" opacity="0.39"/>
<ellipse cx="736.98" cy="241.7" rx="0.8" ry="0.84" fill="#4e3222" opacity="0.74"/>
<ellipse cx="842.26" cy="48.26" rx="0.8" ry="0.72" fill="#3e281c" opacity="0.55"/>
<line x1="677.86" y1="159.89" x2="678.39" y2="163.21" stroke="#2e1e16" stroke-width="0.8" stroke-linecap="round" opacity="0.84"/>
<line x1="746.46" y1="33.99" x2="748.86" y2="35.92" stroke="#2e1e16" stroke-width="0.8" stroke-linecap="round" opacity="0.54"/>
<line x1="686.39" y1="136.68" x2="682.47" y2="138.13" stroke="#4e3222" stroke-width="1.3" stroke-linecap="round" opacity="0.79"/>
<ellipse cx="594.37" cy="201.09" rx="1.5" ry="1.18" fill="#2e1e16" opacity="0.55"/>
<ellipse cx="993.28" cy="287.11" rx="0.5" ry="0.57" fill="#6a4a38" opacity="0.37"/>
<ellipse cx="577.12" cy="169.24" rx="0.7" ry="0.61" fill="#3e281c" opacity="0.71"/>
<ellipse cx="873.23" cy="285.46" rx="0.7" ry="0.75" fill="#4e3222" opacity="0.60"/>
<line x1="625.16" y1="93.74" x2="624.92" y2="97.57" stroke="#4e3222" stroke-width="1.3" stroke-linecap="round" opacity="0.73"/>
<ellipse cx="930.21" cy="248.06" rx="0.6" ry="0.83" fill="#6a4a38" opacity="0.80"/>
<ellipse cx="983.15" cy="166.54" rx="1.0" ry="0.97" fill="#2e1e16" opacity="0.58"/>
<line x1="664.74" y1="277.31" x2="662.44" y2="280.46" stroke="#4e3222" stroke-width="1.3" stroke-linecap="round" opacity="0.55"/>
<ellipse cx="774.41" cy="59.58" rx="0.5" ry="0.35" fill="#4e3222" opacity="0.89"/>
<line x1="701.38" y1="230.81" x2="698.8" y2="233.51" stroke="#4e3222" stroke-width="0.8" stroke-linecap="round" opacity="0.74"/>
<ellipse cx="776.67" cy="216.25" rx="0.6" ry="0.62" fill="#3e281c" opacity="0.50"/>
<ellipse cx="827.21" cy="15.56" rx="0.5" ry="0.5" fill="#6a4a38" opacity="0.72"/>
<ellipse cx="741.34" cy="270.46" rx="0.8" ry="0.91" fill="#3e281c" opacity="0.68"/>
<line x1="696.29" y1="23.42" x2="692.32" y2="26.59" stroke="#2e1e16" stroke-width="1.3" stroke-linecap="round" opacity="0.80"/>
<line x1="735.03" y1="242.55" x2="735.86" y2="245.38" stroke="#2e1e16" stroke-width="0.8" stroke-linecap="round" opacity="0.85"/>
<line x1="542.39" y1="12.24" x2="542.2" y2="17.26" stroke="#4e3222" stroke-width="0.8" stroke-linecap="round" opacity="0.86"/>
<ellipse cx="822.74" cy="212.27" rx="1.0" ry="0.92" fill="#6a4a38" opacity="0.59"/>
<line x1="574.87" y1="39.84" x2="574.85" y2="45.04" stroke="#2e1e16" stroke-width="0.8" stroke-linecap="round" opacity="0.85"/>
<line x1="736.5" y1="227.45" x2="738.46" y2="227.87" stroke="#6a4a38" stroke-width="0.8" stroke-linecap="round" opacity="0.48"/>
<ellipse cx="555.97" cy="284.24" rx="0.7" ry="0.51" fill="#4e3222" opacity="0.66"/>
<line x1="995.01" y1="15.8" x2="991.64" y2="18.13" stroke="#6a4a38" stroke-width="0.8" stroke-linecap="round" opacity="0.39"/>
<ellipse cx="685.92" cy="9.17" rx="0.6" ry="0.49" fill="#3e281c" opacity="0.81"/>
<ellipse cx="916.73" cy="92.9" rx="0.7" ry="0.77" fill="#2e1e16" opacity="0.73"/>
<ellipse cx="904.82" cy="204.12" rx="1.2" ry="0.82" fill="#4e3222" opacity="0.87"/>
<ellipse cx="965.85" cy="112.34" rx="0.6" ry="0.49" fill="#3e281c" opacity="0.71"/>
<ellipse cx="651.01" cy="253" rx="1.2" ry="0.93" fill="#3e281c" opacity="0.77"/>
<ellipse cx="731.06" cy="41.64" rx="1.5" ry="2.29" fill="#2e1e16" opacity="0.60"/>
<ellipse cx="995.41" cy="139.78" rx="1.5" ry="2.17" fill="#2e1e16" opacity="0.86"/>
<ellipse cx="740.08" cy="26.23" rx="1.5" ry="1.92" fill="#3e281c" opacity="0.76"/>
<ellipse cx="593.47" cy="80.26" rx="0.6" ry="0.85" fill="#6a4a38" opacity="0.53"/>
<ellipse cx="926.1" cy="21.07" rx="1.5" ry="1.34" fill="#3e281c" opacity="0.36"/>
<ellipse cx="610.84" cy="30.42" rx="1.2" ry="1.21" fill="#2e1e16" opacity="0.67"/>
<ellipse cx="743.23" cy="161.41" rx="0.6" ry="0.37" fill="#6a4a38" opacity="0.65"/>
<ellipse cx="556.44" cy="87.87" rx="1.0" ry="1.37" fill="#4e3222" opacity="0.58"/>
<ellipse cx="674.94" cy="221.42" rx="0.5" ry="0.56" fill="#6a4a38" opacity="0.44"/>
<ellipse cx="833.6" cy="102.91" rx="1.5" ry="2.39" fill="#3e281c" opacity="0.66"/>
<line x1="853.16" y1="127.18" x2="853.48" y2="130.32" stroke="#4e3222" stroke-width="1.3" stroke-linecap="round" opacity="0.60"/>
<line x1="872.33" y1="277.17" x2="870.21" y2="278.48" stroke="#3e281c" stroke-width="0.8" stroke-linecap="round" opacity="0.79"/>
<line x1="943.95" y1="100.37" x2="943.47" y2="104.05" stroke="#2e1e16" stroke-width="0.8" stroke-linecap="round" opacity="0.38"/>
<line x1="557.76" y1="62.11" x2="556.96" y2="65.77" stroke="#2e1e16" stroke-width="0.8" stroke-linecap="round" opacity="0.57"/>
<line x1="652.67" y1="57.59" x2="651.75" y2="60.06" stroke="#4e3222" stroke-width="0.8" stroke-linecap="round" opacity="0.36"/>
<ellipse cx="689.47" cy="238.84" rx="0.6" ry="0.38" fill="#3e281c" opacity="0.81"/>
<ellipse cx="723.59" cy="248.88" rx="0.7" ry="0.7" fill="#6a4a38" opacity="0.56"/>
<ellipse cx="792.25" cy="279.29" rx="1.2" ry="1.65" fill="#6a4a38" opacity="0.78"/>
<ellipse cx="674.95" cy="120.98" rx="0.7" ry="0.8" fill="#2e1e16" opacity="0.77"/>
<ellipse cx="574.27" cy="81.52" rx="1.5" ry="0.91" fill="#4e3222" opacity="0.89"/>
<line x1="681.33" y1="153.92" x2="678.86" y2="154.56" stroke="#4e3222" stroke-width="1.3" stroke-linecap="round" opacity="0.52"/>
<ellipse cx="779.27" cy="23.72" rx="0.8" ry="0.7" fill="#6a4a38" opacity="0.36"/>
<ellipse cx="710.83" cy="126.2" rx="0.8" ry="0.66" fill="#6a4a38" opacity="0.69"/>
<ellipse cx="844.88" cy="273.96" rx="0.6" ry="0.84" fill="#6a4a38" opacity="0.45"/>
<ellipse cx="785.49" cy="68.57" rx="1.5" ry="1.47" fill="#3e281c" opacity="0.62"/>
<ellipse cx="539.53" cy="87.02" rx="1.5" ry="2.31" fill="#6a4a38" opacity="0.64"/>
<line x1="736.84" y1="263.07" x2="739.74" y2="266.44" stroke="#4e3222" stroke-width="1.3" stroke-linecap="round" opacity="0.44"/>
<ellipse cx="593.07" cy="72.7" rx="0.6" ry="0.39" fill="#2e1e16" opacity="0.82"/>
<ellipse cx="719.42" cy="96.15" rx="0.5" ry="0.8" fill="#6a4a38" opacity="0.41"/>
<line x1="908.38" y1="118.33" x2="907.98" y2="121.1" stroke="#4e3222" stroke-width="0.8" stroke-linecap="round" opacity="0.61"/>
<line x1="907.23" y1="100.99" x2="911.42" y2="103.71" stroke="#3e281c" stroke-width="0.8" stroke-linecap="round" opacity="0.43"/>
<ellipse cx="542.87" cy="235.08" rx="1.5" ry="2.08" fill="#2e1e16" opacity="0.82"/>
<line x1="640.56" y1="228.47" x2="637.17" y2="229.95" stroke="#2e1e16" stroke-width="0.8" stroke-linecap="round" opacity="0.39"/>
<ellipse cx="584.95" cy="17.85" rx="0.7" ry="0.43" fill="#2e1e16" opacity="0.66"/>
<ellipse cx="723.18" cy="209.89" rx="1.5" ry="1.51" fill="#4e3222" opacity="0.68"/>
<ellipse cx="843.26" cy="75.38" rx="0.6" ry="0.7" fill="#4e3222" opacity="0.77"/>
<line x1="867.86" y1="185.05" x2="872.19" y2="185.24" stroke="#3e281c" stroke-width="1.0" stroke-linecap="round" opacity="0.52"/>
<ellipse cx="825.42" cy="106.02" rx="0.5" ry="0.48" fill="#4e3222" opacity="0.49"/>
<line x1="758" y1="103.32" x2="758.54" y2="107.57" stroke="#4e3222" stroke-width="1.0" stroke-linecap="round" opacity="0.88"/>
<ellipse cx="569.32" cy="112.03" rx="1.0" ry="0.95" fill="#6a4a38" opacity="0.61"/>
<line x1="672.05" y1="56.97" x2="671.69" y2="59.9" stroke="#4e3222" stroke-width="0.8" stroke-linecap="round" opacity="0.63"/>
<ellipse cx="714.85" cy="157.91" rx="0.7" ry="1.08" fill="#3e281c" opacity="0.40"/>
<line x1="575.35" y1="136.64" x2="578.2" y2="140.87" stroke="#3e281c" stroke-width="0.8" stroke-linecap="round" opacity="0.79"/>
<line x1="920.03" y1="258.61" x2="916.61" y2="262.16" stroke="#3e281c" stroke-width="0.8" stroke-linecap="round" opacity="0.78"/>
<ellipse cx="632.04" cy="141.63" rx="0.8" ry="0.66" fill="#6a4a38" opacity="0.58"/>
<line x1="935.24" y1="48.37" x2="936.39" y2="50.71" stroke="#6a4a38" stroke-width="0.8" stroke-linecap="round" opacity="0.73"/>
<ellipse cx="640.93" cy="124.38" rx="1.2" ry="1.12" fill="#3e281c" opacity="0.46"/>
<ellipse cx="850.61" cy="71.72" rx="0.8" ry="1.14" fill="#2e1e16" opacity="0.75"/>
<ellipse cx="921.26" cy="257.73" rx="0.8" ry="1.24" fill="#6a4a38" opacity="0.69"/>
<ellipse cx="679.98" cy="246.26" rx="0.6" ry="0.74" fill="#3e281c" opacity="0.45"/>
<line x1="755.18" y1="83.37" x2="757.73" y2="85.09" stroke="#3e281c" stroke-width="1.0" stroke-linecap="round" opacity="0.86"/>
<ellipse cx="617.39" cy="104.51" rx="0.6" ry="0.42" fill="#4e3222" opacity="0.35"/>
<ellipse cx="591.64" cy="24.27" rx="1.2" ry="1.74" fill="#4e3222" opacity="0.36"/>
<ellipse cx="1000.63" cy="18.39" rx="1.2" ry="1.68" fill="#2e1e16" opacity="0.83"/>
<ellipse cx="631.59" cy="124.09" rx="1.2" ry="1.01" fill="#2e1e16" opacity="0.62"/>
<ellipse cx="910.01" cy="167.57" rx="1.2" ry="1.88" fill="#2e1e16" opacity="0.39"/>
<line x1="693.12" y1="261.75" x2="695.4" y2="266.17" stroke="#3e281c" stroke-width="1.0" stroke-linecap="round" opacity="0.85"/>
<ellipse cx="744.08" cy="208.06" rx="0.7" ry="0.8" fill="#2e1e16" opacity="0.45"/>
<line x1="596.15" y1="56.4" x2="599.08" y2="61.01" stroke="#2e1e16" stroke-width="1.0" stroke-linecap="round" opacity="0.36"/>
<ellipse cx="839.19" cy="252.11" rx="0.8" ry="1.15" fill="#3e281c" opacity="0.79"/>
<line x1="838.05" y1="250.7" x2="838.42" y2="252.69" stroke="#6a4a38" stroke-width="1.0" stroke-linecap="round" opacity="0.37"/>
<ellipse cx="782.37" cy="14.28" rx="0.8" ry="0.85" fill="#4e3222" opacity="0.86"/>
<ellipse cx="578.09" cy="271.8" rx="0.6" ry="0.56" fill="#3e281c" opacity="0.39"/>
<ellipse cx="644.62" cy="190.97" rx="0.8" ry="1.16" fill="#2e1e16" opacity="0.55"/>
<ellipse cx="805.35" cy="208.41" rx="0.8" ry="0.5" fill="#4e3222" opacity="0.87"/>
<ellipse cx="547.26" cy="64.9" rx="0.8" ry="0.49" fill="#4e3222" opacity="0.89"/>
<ellipse cx="545.13" cy="45.6" rx="1.0" ry="1.23" fill="#4e3222" opacity="0.53"/>
<line x1="598.45" y1="45.73" x2="595.72" y2="48.84" stroke="#2e1e16" stroke-width="1.3" stroke-linecap="round" opacity="0.77"/>
<line x1="543.61" y1="84.06" x2="539.76" y2="87.03" stroke="#2e1e16" stroke-width="0.8" stroke-linecap="round" opacity="0.83"/>
<line x1="735.51" y1="137.47" x2="737.37" y2="138.42" stroke="#6a4a38" stroke-width="1.0" stroke-linecap="round" opacity="0.37"/>
<ellipse cx="727.72" cy="93.81" rx="0.7" ry="0.78" fill="#2e1e16" opacity="0.77"/>
<line x1="821.08" y1="149.34" x2="819.63" y2="154.6" stroke="#3e281c" stroke-width="1.3" stroke-linecap="round" opacity="0.75"/>
<ellipse cx="884.6" cy="226.85" rx="0.6" ry="0.44" fill="#3e281c" opacity="0.55"/>
<ellipse cx="678.62" cy="212.96" rx="0.6" ry="0.7" fill="#4e3222" opacity="0.51"/>
<ellipse cx="846.65" cy="9.96" rx="1.2" ry="1.33" fill="#2e1e16" opacity="0.73"/>
<ellipse cx="900.77" cy="130.73" rx="1.0" ry="0.85" fill="#3e281c" opacity="0.80"/>
<ellipse cx="871.36" cy="56.59" rx="1.2" ry="1.59" fill="#3e281c" opacity="0.59"/>
<line x1="915.01" y1="102.9" x2="910.85" y2="106.31" stroke="#4e3222" stroke-width="1.3" stroke-linecap="round" opacity="0.65"/>
<ellipse cx="564.62" cy="65.91" rx="1.2" ry="1.28" fill="#4e3222" opacity="0.80"/>
<ellipse cx="760.02" cy="229.44" rx="1.2" ry="1.24" fill="#6a4a38" opacity="0.87"/>
<line x1="685.33" y1="24.44" x2="687.45" y2="24.61" stroke="#2e1e16" stroke-width="0.8" stroke-linecap="round" opacity="0.49"/>
<line x1="936.47" y1="115.06" x2="935.23" y2="118.05" stroke="#2e1e16" stroke-width="0.8" stroke-linecap="round" opacity="0.80"/>
<ellipse cx="941.93" cy="123.6" rx="1.0" ry="0.97" fill="#3e281c" opacity="0.70"/>
<ellipse cx="912.18" cy="43.77" rx="0.6" ry="0.37" fill="#6a4a38" opacity="0.84"/>
<line x1="570.76" y1="118.38" x2="569.44" y2="123.22" stroke="#2e1e16" stroke-width="1.3" stroke-linecap="round" opacity="0.41"/>
<line x1="570" y1="122.02" x2="569.57" y2="126.73" stroke="#3e281c" stroke-width="0.8" stroke-linecap="round" opacity="0.51"/>
<ellipse cx="676.56" cy="257.16" rx="1.0" ry="1.45" fill="#6a4a38" opacity="0.44"/>
<ellipse cx="832.14" cy="70.23" rx="1.2" ry="1.65" fill="#6a4a38" opacity="0.87"/>
<line x1="541.76" y1="167.99" x2="542.95" y2="173.1" stroke="#6a4a38" stroke-width="0.8" stroke-linecap="round" opacity="0.42"/>
<ellipse cx="897.6" cy="273.12" rx="0.5" ry="0.57" fill="#3e281c" opacity="0.63"/>
<ellipse cx="919.52" cy="278.76" rx="1.2" ry="0.99" fill="#3e281c" opacity="0.84"/>
<line x1="685.34" y1="167.95" x2="680.26" y2="168.28" stroke="#3e281c" stroke-width="1.3" stroke-linecap="round" opacity="0.55"/>
<line x1="650.16" y1="239.39" x2="655.82" y2="240.22" stroke="#4e3222" stroke-width="0.8" stroke-linecap="round" opacity="0.49"/>
<line x1="784.35" y1="47.94" x2="783.74" y2="52.12" stroke="#2e1e16" stroke-width="1.0" stroke-linecap="round" opacity="0.74"/>
<ellipse cx="996.22" cy="24.5" rx="1.5" ry="1.75" fill="#6a4a38" opacity="0.56"/>
<ellipse cx="544.61" cy="17.84" rx="0.6" ry="0.7" fill="#6a4a38" opacity="0.84"/>
<line x1="886.93" y1="261.23" x2="883.43" y2="263.51" stroke="#3e281c" stroke-width="1.0" stroke-linecap="round" opacity="0.40"/>
<ellipse cx="726.94" cy="163.51" rx="0.7" ry="0.81" fill="#4e3222" opacity="0.48"/>
<ellipse cx="677.05" cy="51.19" rx="0.5" ry="0.42" fill="#6a4a38" opacity="0.86"/>
<line x1="792.84" y1="26.1" x2="790.36" y2="29.27" stroke="#3e281c" stroke-width="1.0" stroke-linecap="round" opacity="0.47"/>
<ellipse cx="849.74" cy="116.84" rx="1.2" ry="1.69" fill="#3e281c" opacity="0.88"/>
<line x1="759.98" y1="108.14" x2="762.33" y2="112.71" stroke="#6a4a38" stroke-width="0.8" stroke-linecap="round" opacity="0.85"/>
<ellipse cx="569.38" cy="121.98" rx="1.5" ry="1.65" fill="#2e1e16" opacity="0.47"/>
<ellipse cx="985.61" cy="190.11" rx="1.5" ry="1.23" fill="#3e281c" opacity="0.52"/>
<ellipse cx="612.95" cy="130.04" rx="1.2" ry="1.13" fill="#2e1e16" opacity="0.61"/>
<ellipse cx="934.5" cy="93.59" rx="0.7" ry="0.5" fill="#4e3222" opacity="0.79"/>
<ellipse cx="576.29" cy="170.34" rx="0.6" ry="0.44" fill="#6a4a38" opacity="0.78"/>
<line x1="816.82" y1="153.44" x2="820" y2="156.82" stroke="#4e3222" stroke-width="1.3" stroke-linecap="round" opacity="0.38"/>
<line x1="821.89" y1="101.28" x2="822.44" y2="106.73" stroke="#3e281c" stroke-width="1.0" stroke-linecap="round" opacity="0.79"/>
<line x1="834.07" y1="286.89" x2="830.52" y2="287.37" stroke="#3e281c" stroke-width="1.0" stroke-linecap="round" opacity="0.43"/>
<ellipse cx="897.65" cy="38.45" rx="0.6" ry="0.42" fill="#3e281c" opacity="0.82"/>
<line x1="929.38" y1="81.71" x2="928.66" y2="84.13" stroke="#2e1e16" stroke-width="1.3" stroke-linecap="round" opacity="0.79"/>
<ellipse cx="757.76" cy="152.93" rx="1.0" ry="0.94" fill="#2e1e16" opacity="0.63"/>
<ellipse cx="608.88" cy="66.32" rx="1.0" ry="0.82" fill="#2e1e16" opacity="0.75"/>
<ellipse cx="949.16" cy="225.93" rx="1.5" ry="1.53" fill="#3e281c" opacity="0.47"/>
<ellipse cx="765.76" cy="212.56" rx="0.6" ry="0.46" fill="#2e1e16" opacity="0.48"/>
<ellipse cx="743.22" cy="177.8" rx="1.5" ry="1.03" fill="#4e3222" opacity="0.50"/>
<line x1="936.37" y1="182.19" x2="941.41" y2="183.3" stroke="#3e281c" stroke-width="1.3" stroke-linecap="round" opacity="0.47"/>
<line x1="932.62" y1="235.62" x2="928.28" y2="236.1" stroke="#6a4a38" stroke-width="1.3" stroke-linecap="round" opacity="0.79"/>
<ellipse cx="926.89" cy="280.82" rx="1.2" ry="1.15" fill="#6a4a38" opacity="0.82"/>
<ellipse cx="766.14" cy="97.2" rx="0.6" ry="0.73" fill="#2e1e16" opacity="0.87"/>
<ellipse cx="640.77" cy="38.96" rx="0.7" ry="0.45" fill="#6a4a38" opacity="0.59"/>
<line x1="845.27" y1="52.47" x2="842.49" y2="54.23" stroke="#2e1e16" stroke-width="0.8" stroke-linecap="round" opacity="0.66"/>
<ellipse cx="901.14" cy="101.03" rx="1.2" ry="1.15" fill="#2e1e16" opacity="0.54"/>
<ellipse cx="979.29" cy="153.09" rx="1.5" ry="1.87" fill="#3e281c" opacity="0.69"/>
<line x1="928.58" y1="248.54" x2="928.34" y2="251.41" stroke="#3e281c" stroke-width="1.0" stroke-linecap="round" opacity="0.44"/>
<line x1="620.01" y1="255.33" x2="620.55" y2="258.21" stroke="#3e281c" stroke-width="1.0" stroke-linecap="round" opacity="0.63"/>
<line x1="977.19" y1="262.31" x2="978.56" y2="264.33" stroke="#3e281c" stroke-width="0.8" stroke-linecap="round" opacity="0.60"/>
<ellipse cx="824.84" cy="279.73" rx="0.7" ry="0.75" fill="#3e281c" opacity="0.87"/>
<ellipse cx="760.16" cy="148.69" rx="0.7" ry="1" fill="#2e1e16" opacity="0.86"/>
<ellipse cx="590.73" cy="227.67" rx="1.5" ry="0.98" fill="#3e281c" opacity="0.49"/>
<ellipse cx="702.16" cy="208.61" rx="0.7" ry="0.91" fill="#2e1e16" opacity="0.56"/>
<line x1="902.2" y1="93.21" x2="902.92" y2="97.98" stroke="#6a4a38" stroke-width="1.3" stroke-linecap="round" opacity="0.64"/>
<line x1="970.17" y1="61.59" x2="964.65" y2="62.69" stroke="#6a4a38" stroke-width="1.0" stroke-linecap="round" opacity="0.83"/>
<line x1="641.4" y1="231.02" x2="646.4" y2="232.68" stroke="#6a4a38" stroke-width="0.8" stroke-linecap="round" opacity="0.71"/>
<ellipse cx="966" cy="46.18" rx="1.5" ry="1.06" fill="#2e1e16" opacity="0.37"/>
<ellipse cx="558.99" cy="64.47" rx="1.0" ry="1.02" fill="#4e3222" opacity="0.43"/>
<ellipse cx="956.3" cy="116.25" rx="1.2" ry="1.83" fill="#3e281c" opacity="0.62"/>
<line x1="750.04" y1="215.05" x2="748.7" y2="218.02" stroke="#4e3222" stroke-width="0.8" stroke-linecap="round" opacity="0.61"/>
<line x1="714.49" y1="174.78" x2="713.02" y2="176.7" stroke="#4e3222" stroke-width="1.0" stroke-linecap="round" opacity="0.53"/>
<line x1="922.49" y1="45.73" x2="925.07" y2="49.63" stroke="#3e281c" stroke-width="1.0" stroke-linecap="round" opacity="0.63"/>
<ellipse cx="932.99" cy="14.41" rx="1.0" ry="1.17" fill="#3e281c" opacity="0.46"/>
<ellipse cx="894.48" cy="239.15" rx="1.0" ry="0.63" fill="#3e281c" opacity="0.75"/>
<ellipse cx="908.12" cy="114.11" rx="0.8" ry="0.54" fill="#3e281c" opacity="0.60"/>
<ellipse cx="864.6" cy="184.36" rx="1.2" ry="1.82" fill="#4e3222" opacity="0.45"/>
<line x1="764.34" y1="53.54" x2="766.43" y2="53.84" stroke="#4e3222" stroke-width="1.0" stroke-linecap="round" opacity="0.84"/>
<ellipse cx="790.29" cy="259.01" rx="0.5" ry="0.4" fill="#3e281c" opacity="0.72"/>
<ellipse cx="911.9" cy="207.73" rx="0.7" ry="0.75" fill="#6a4a38" opacity="0.88"/>
<line x1="654.08" y1="234.97" x2="652.65" y2="236.72" stroke="#3e281c" stroke-width="1.0" stroke-linecap="round" opacity="0.79"/>
<ellipse cx="608.22" cy="192.47" rx="0.8" ry="0.58" fill="#4e3222" opacity="0.74"/>
<line x1="563.6" y1="87.81" x2="563.1" y2="91.7" stroke="#6a4a38" stroke-width="1.3" stroke-linecap="round" opacity="0.39"/>
<ellipse cx="759.42" cy="203.49" rx="0.8" ry="1.15" fill="#2e1e16" opacity="0.52"/>
<ellipse cx="706.49" cy="226.02" rx="0.6" ry="0.74" fill="#2e1e16" opacity="0.43"/>
<ellipse cx="642.17" cy="208.61" rx="0.5" ry="0.42" fill="#2e1e16" opacity="0.41"/>
<ellipse cx="767.22" cy="42.26" rx="0.6" ry="0.66" fill="#6a4a38" opacity="0.79"/>
<ellipse cx="737.77" cy="62.15" rx="1.0" ry="1" fill="#4e3222" opacity="0.52"/>
<ellipse cx="956.81" cy="224.17" rx="0.8" ry="0.75" fill="#4e3222" opacity="0.88"/>
<ellipse cx="729.73" cy="19.88" rx="1.2" ry="1.4" fill="#2e1e16" opacity="0.65"/>
<ellipse cx="882.16" cy="132.73" rx="1.5" ry="1.69" fill="#4e3222" opacity="0.71"/>
<line x1="848.9" y1="192.86" x2="851.57" y2="192.92" stroke="#2e1e16" stroke-width="0.8" stroke-linecap="round" opacity="0.77"/>
<line x1="829.71" y1="265.59" x2="828.88" y2="269.58" stroke="#2e1e16" stroke-width="0.8" stroke-linecap="round" opacity="0.80"/>
<ellipse cx="945.21" cy="60.28" rx="1.0" ry="0.64" fill="#2e1e16" opacity="0.46"/>
<ellipse cx="966.17" cy="21.14" rx="1.5" ry="1.47" fill="#2e1e16" opacity="0.59"/>
<ellipse cx="913.19" cy="68.04" rx="0.5" ry="0.38" fill="#3e281c" opacity="0.65"/>
<line x1="960.82" y1="218.97" x2="965.21" y2="221.52" stroke="#3e281c" stroke-width="1.3" stroke-linecap="round" opacity="0.44"/>
<line x1="853.46" y1="162.89" x2="853.91" y2="167.91" stroke="#6a4a38" stroke-width="0.8" stroke-linecap="round" opacity="0.52"/>
<ellipse cx="839.04" cy="28.96" rx="0.7" ry="0.49" fill="#6a4a38" opacity="0.83"/>
<line x1="927.04" y1="251.67" x2="928.97" y2="254.7" stroke="#2e1e16" stroke-width="1.3" stroke-linecap="round" opacity="0.72"/>
<line x1="619.73" y1="174.98" x2="619.78" y2="177.31" stroke="#4e3222" stroke-width="1.3" stroke-linecap="round" opacity="0.41"/>
<line x1="649.72" y1="83.88" x2="646.36" y2="86.58" stroke="#4e3222" stroke-width="1.3" stroke-linecap="round" opacity="0.85"/>
<ellipse cx="880.68" cy="46.76" rx="1.5" ry="1.96" fill="#4e3222" opacity="0.68"/>
<ellipse cx="881.87" cy="96.74" rx="0.6" ry="0.36" fill="#6a4a38" opacity="0.61"/>
<line x1="914.56" y1="87.38" x2="911.46" y2="89.31" stroke="#4e3222" stroke-width="0.8" stroke-linecap="round" opacity="0.37"/>
<line x1="815.72" y1="236.92" x2="813.37" y2="240.47" stroke="#6a4a38" stroke-width="1.3" stroke-linecap="round" opacity="0.83"/>
<line x1="744.96" y1="36.02" x2="746.16" y2="39.82" stroke="#4e3222" stroke-width="1.3" stroke-linecap="round" opacity="0.65"/>
<ellipse cx="795.5" cy="288.23" rx="0.8" ry="1.03" fill="#3e281c" opacity="0.45"/>
<ellipse cx="765.19" cy="78.48" rx="1.5" ry="2.11" fill="#4e3222" opacity="0.39"/>
<ellipse cx="590.52" cy="149.3" rx="1.2" ry="1.21" fill="#3e281c" opacity="0.51"/>
<ellipse cx="630.69" cy="69.29" rx="0.6" ry="0.88" fill="#2e1e16" opacity="0.57"/>
<line x1="888.51" y1="100.18" x2="885.4" y2="101.92" stroke="#6a4a38" stroke-width="1.0" stroke-linecap="round" opacity="0.51"/>
<ellipse cx="634.92" cy="153.17" rx="0.5" ry="0.5" fill="#3e281c" opacity="0.81"/>
<line x1="650.75" y1="212.03" x2="654.19" y2="214.11" stroke="#3e281c" stroke-width="1.0" stroke-linecap="round" opacity="0.42"/>
<ellipse cx="761.18" cy="242.06" rx="0.6" ry="0.4" fill="#2e1e16" opacity="0.73"/>
<line x1="967.53" y1="230.54" x2="963.71" y2="231.17" stroke="#2e1e16" stroke-width="1.0" stroke-linecap="round" opacity="0.48"/>
<line x1="643.48" y1="163.34" x2="645.17" y2="164.73" stroke="#6a4a38" stroke-width="1.0" stroke-linecap="round" opacity="0.59"/>
<ellipse cx="804.89" cy="272.45" rx="0.5" ry="0.63" fill="#3e281c" opacity="0.53"/>
<ellipse cx="629.75" cy="68.59" rx="0.8" ry="0.6" fill="#3e281c" opacity="0.61"/>
<ellipse cx="793.97" cy="147.35" rx="0.5" ry="0.64" fill="#4e3222" opacity="0.48"/>
<ellipse cx="568.02" cy="275.07" rx="0.8" ry="1.17" fill="#4a3024" opacity="0.73"/>
<ellipse cx="651.64" cy="287.96" rx="1.2" ry="1.45" fill="#4a3024" opacity="0.70"/>
<ellipse cx="540.89" cy="194.46" rx="1.0" ry="1.05" fill="#4a3024" opacity="0.72"/>
<ellipse cx="631.33" cy="218.32" rx="1.0" ry="1.53" fill="#4a3024" opacity="0.79"/>
<ellipse cx="659.7" cy="211.7" rx="1.0" ry="0.62" fill="#4a3024" opacity="0.38"/>
<ellipse cx="729.54" cy="201.12" rx="1.0" ry="1.44" fill="#4a3024" opacity="0.73"/>
<ellipse cx="683.02" cy="285.44" rx="1.0" ry="1.48" fill="#4a3024" opacity="0.41"/>
<ellipse cx="595.66" cy="245.12" rx="0.8" ry="1.26" fill="#4a3024" opacity="0.35"/>
<ellipse cx="626.44" cy="263.41" rx="1.2" ry="1.33" fill="#4a3024" opacity="0.51"/>
<ellipse cx="611.48" cy="198.18" rx="1.0" ry="1.21" fill="#4a3024" opacity="0.37"/>
<ellipse cx="642.57" cy="216.05" rx="0.8" ry="1.09" fill="#4a3024" opacity="0.71"/>
<ellipse cx="678" cy="248.69" rx="0.8" ry="1.02" fill="#4a3024" opacity="0.40"/>
<ellipse cx="626.67" cy="233.39" rx="1.0" ry="0.64" fill="#4a3024" opacity="0.47"/>
<ellipse cx="718.88" cy="216.77" rx="1.0" ry="1.49" fill="#4a3024" opacity="0.57"/>
<ellipse cx="578.98" cy="268.74" rx="0.8" ry="0.62" fill="#4a3024" opacity="0.40"/>
<ellipse cx="600.01" cy="291.48" rx="1.0" ry="0.78" fill="#4a3024" opacity="0.83"/>
<ellipse cx="691.45" cy="290.21" rx="0.8" ry="1.16" fill="#4a3024" opacity="0.36"/>
<ellipse cx="749.3" cy="215.92" rx="1.0" ry="1.25" fill="#4a3024" opacity="0.56"/>
<ellipse cx="694.58" cy="272.02" rx="1.2" ry="1.39" fill="#4a3024" opacity="0.55"/>
<ellipse cx="600.08" cy="232.07" rx="0.8" ry="0.97" fill="#4a3024" opacity="0.38"/>
<ellipse cx="669.75" cy="277.8" rx="1.0" ry="1.6" fill="#4a3024" opacity="0.61"/>
<ellipse cx="686.46" cy="215.75" rx="0.8" ry="1.04" fill="#4a3024" opacity="0.37"/>
<ellipse cx="597.96" cy="209.17" rx="1.0" ry="0.98" fill="#4a3024" opacity="0.39"/>
<ellipse cx="714.91" cy="201.26" rx="0.8" ry="0.89" fill="#4a3024" opacity="0.66"/>
<ellipse cx="720.17" cy="244.89" rx="0.6" ry="0.62" fill="#4a3024" opacity="0.38"/>
<ellipse cx="721.39" cy="270.59" rx="1.2" ry="1.8" fill="#4a3024" opacity="0.78"/>
<ellipse cx="632.08" cy="287.81" rx="0.8" ry="1.28" fill="#4a3024" opacity="0.59"/>
<ellipse cx="745.66" cy="254.65" rx="0.6" ry="0.78" fill="#4a3024" opacity="0.77"/>
<ellipse cx="753.75" cy="258.03" rx="1.0" ry="1.28" fill="#4a3024" opacity="0.66"/>
<ellipse cx="740.87" cy="264.56" rx="1.0" ry="0.72" fill="#4a3024" opacity="0.37"/>
<ellipse cx="753.63" cy="285.28" rx="1.0" ry="0.87" fill="#4a3024" opacity="0.65"/>
<ellipse cx="647.61" cy="222.89" rx="0.8" ry="1" fill="#4a3024" opacity="0.43"/>
<ellipse cx="705.5" cy="275.59" rx="0.8" ry="0.54" fill="#4a3024" opacity="0.46"/>
<ellipse cx="640.43" cy="263.43" rx="1.0" ry="0.79" fill="#4a3024" opacity="0.80"/>
<ellipse cx="541.87" cy="289.41" rx="0.6" ry="0.86" fill="#4a3024" opacity="0.45"/>
<ellipse cx="569.87" cy="218.58" rx="0.8" ry="1.11" fill="#4a3024" opacity="0.57"/>
<ellipse cx="726.68" cy="232.72" rx="0.6" ry="0.92" fill="#4a3024" opacity="0.64"/>
<ellipse cx="739.05" cy="205.57" rx="0.8" ry="0.84" fill="#4a3024" opacity="0.66"/>
<ellipse cx="726.12" cy="193.72" rx="0.6" ry="0.84" fill="#4a3024" opacity="0.49"/>
<ellipse cx="737.54" cy="216.27" rx="1.2" ry="1.74" fill="#4a3024" opacity="0.51"/>
<ellipse cx="711.44" cy="277.85" rx="1.2" ry="1.31" fill="#4a3024" opacity="0.82"/>
<ellipse cx="716.16" cy="198.9" rx="1.0" ry="1.31" fill="#4a3024" opacity="0.77"/>
<ellipse cx="539.51" cy="208.15" rx="0.8" ry="1.13" fill="#4a3024" opacity="0.71"/>
<ellipse cx="627.83" cy="281.56" rx="0.8" ry="0.88" fill="#4a3024" opacity="0.71"/>
<ellipse cx="570.62" cy="193.86" rx="0.6" ry="0.67" fill="#4a3024" opacity="0.35"/>
<ellipse cx="552.67" cy="261.69" rx="1.2" ry="1.29" fill="#4a3024" opacity="0.83"/>
<ellipse cx="545.44" cy="215.71" rx="0.6" ry="0.48" fill="#4a3024" opacity="0.64"/>
<ellipse cx="576.93" cy="246.36" rx="1.2" ry="1.82" fill="#4a3024" opacity="0.73"/>
<ellipse cx="738.19" cy="226.65" rx="1.2" ry="1.37" fill="#4a3024" opacity="0.65"/>
<ellipse cx="686.93" cy="213.82" rx="1.2" ry="1.12" fill="#4a3024" opacity="0.56"/>
<ellipse cx="672.51" cy="289.82" rx="1.2" ry="1.24" fill="#4a3024" opacity="0.56"/>
<ellipse cx="666.41" cy="242.96" rx="1.0" ry="1.23" fill="#4a3024" opacity="0.85"/>
<ellipse cx="601.74" cy="185.06" rx="1.0" ry="0.98" fill="#4a3024" opacity="0.42"/>
<ellipse cx="622.75" cy="222.13" rx="0.8" ry="1.2" fill="#4a3024" opacity="0.52"/>
<ellipse cx="756.3" cy="265.48" rx="1.0" ry="0.71" fill="#4a3024" opacity="0.74"/>
<ellipse cx="544.74" cy="234.59" rx="1.2" ry="0.99" fill="#4a3024" opacity="0.67"/>
<ellipse cx="687.41" cy="204.67" rx="0.8" ry="0.6" fill="#4a3024" opacity="0.71"/>
<ellipse cx="689.67" cy="262.53" rx="0.8" ry="0.79" fill="#4a3024" opacity="0.50"/>
<ellipse cx="579.84" cy="191.93" rx="1.0" ry="0.85" fill="#4a3024" opacity="0.63"/>
<ellipse cx="752.07" cy="259.58" rx="0.6" ry="0.8" fill="#4a3024" opacity="0.49"/>
<ellipse cx="649.45" cy="229.62" rx="0.6" ry="0.78" fill="#4a3024" opacity="0.48"/>
<ellipse cx="566.22" cy="234.92" rx="0.8" ry="0.49" fill="#4a3024" opacity="0.55"/>
<ellipse cx="724.41" cy="243.12" rx="1.2" ry="1.13" fill="#4a3024" opacity="0.71"/>
<ellipse cx="687.85" cy="234.54" rx="1.2" ry="1.57" fill="#4a3024" opacity="0.83"/>
<ellipse cx="552.88" cy="204.57" rx="1.2" ry="1.64" fill="#4a3024" opacity="0.46"/>
<ellipse cx="648.39" cy="221.31" rx="1.2" ry="1.37" fill="#4a3024" opacity="0.55"/>
<ellipse cx="631.17" cy="234.88" rx="1.2" ry="0.78" fill="#4a3024" opacity="0.64"/>
<ellipse cx="681.8" cy="185.09" rx="1.2" ry="1.74" fill="#4a3024" opacity="0.38"/>
<ellipse cx="570.63" cy="280.54" rx="1.2" ry="1.81" fill="#4a3024" opacity="0.55"/>
<ellipse cx="652.06" cy="213.9" rx="1.2" ry="1.63" fill="#4a3024" opacity="0.59"/>
<ellipse cx="656.83" cy="253.67" rx="0.6" ry="0.74" fill="#4a3024" opacity="0.66"/>
<ellipse cx="592.91" cy="290.12" rx="0.8" ry="0.7" fill="#4a3024" opacity="0.41"/>
<ellipse cx="646.79" cy="222.32" rx="0.8" ry="1.05" fill="#4a3024" opacity="0.43"/>
<ellipse cx="739.57" cy="262.26" rx="0.6" ry="0.58" fill="#4a3024" opacity="0.37"/>
<ellipse cx="601.34" cy="262.42" rx="0.8" ry="0.48" fill="#4a3024" opacity="0.85"/>
<ellipse cx="655.53" cy="219.22" rx="0.8" ry="1" fill="#4a3024" opacity="0.83"/>
<ellipse cx="628.21" cy="238.22" rx="1.2" ry="0.78" fill="#4a3024" opacity="0.70"/>
<ellipse cx="732.37" cy="186.26" rx="0.8" ry="0.64" fill="#4a3024" opacity="0.67"/>
<ellipse cx="718.44" cy="277.18" rx="0.6" ry="0.74" fill="#4a3024" opacity="0.43"/>
<ellipse cx="685.78" cy="272.75" rx="0.6" ry="0.62" fill="#4a3024" opacity="0.76"/>
<ellipse cx="639.35" cy="224.72" rx="1.0" ry="0.67" fill="#4a3024" opacity="0.49"/>
<ellipse cx="669.43" cy="203.11" rx="0.6" ry="0.76" fill="#4a3024" opacity="0.53"/>
<ellipse cx="568.79" cy="242.86" rx="0.6" ry="0.95" fill="#4a3024" opacity="0.83"/>
<ellipse cx="615.69" cy="254.02" rx="0.8" ry="0.95" fill="#4a3024" opacity="0.47"/>
<ellipse cx="712.37" cy="228.71" rx="0.8" ry="0.61" fill="#4a3024" opacity="0.84"/>
<ellipse cx="692.51" cy="256.28" rx="1.0" ry="0.83" fill="#4a3024" opacity="0.70"/>
<ellipse cx="565.37" cy="244.58" rx="1.2" ry="1.81" fill="#4a3024" opacity="0.46"/>
<ellipse cx="645.27" cy="271.19" rx="0.8" ry="0.54" fill="#4a3024" opacity="0.66"/>
<ellipse cx="602.23" cy="220.04" rx="0.6" ry="0.88" fill="#4a3024" opacity="0.37"/>
<ellipse cx="587.84" cy="283.71" rx="0.6" ry="0.37" fill="#4a3024" opacity="0.76"/>
<ellipse cx="708.03" cy="224.23" rx="1.0" ry="1.27" fill="#4a3024" opacity="0.42"/>
<ellipse cx="692.81" cy="290.6" rx="1.2" ry="1.57" fill="#4a3024" opacity="0.55"/>
<ellipse cx="621.19" cy="220.01" rx="0.6" ry="0.79" fill="#4a3024" opacity="0.62"/>
<ellipse cx="681.47" cy="203.71" rx="0.8" ry="1.14" fill="#4a3024" opacity="0.79"/>
<ellipse cx="688.64" cy="291.21" rx="1.0" ry="1.29" fill="#4a3024" opacity="0.36"/>
<ellipse cx="702.71" cy="273.82" rx="0.6" ry="0.5" fill="#4a3024" opacity="0.55"/>
<ellipse cx="549.97" cy="258.49" rx="0.6" ry="0.56" fill="#4a3024" opacity="0.47"/>
<ellipse cx="614.22" cy="275.34" rx="1.0" ry="1.49" fill="#4a3024" opacity="0.36"/>
<ellipse cx="660.58" cy="200.67" rx="0.8" ry="0.88" fill="#4a3024" opacity="0.68"/>
<ellipse cx="662.96" cy="204.45" rx="0.8" ry="0.59" fill="#4a3024" opacity="0.85"/>
<ellipse cx="551.06" cy="189.26" rx="0.6" ry="0.45" fill="#4a3024" opacity="0.82"/>
<ellipse cx="542.55" cy="251" rx="0.6" ry="0.6" fill="#4a3024" opacity="0.52"/>
<ellipse cx="732.11" cy="204.81" rx="0.6" ry="0.5" fill="#4a3024" opacity="0.71"/>
<ellipse cx="615.36" cy="237.33" rx="0.8" ry="0.93" fill="#4a3024" opacity="0.85"/>
<ellipse cx="605.78" cy="233.78" rx="1.2" ry="1.84" fill="#4a3024" opacity="0.48"/>
<ellipse cx="723.84" cy="228.41" rx="1.0" ry="1.34" fill="#4a3024" opacity="0.71"/>
<ellipse cx="642.09" cy="229.51" rx="0.6" ry="0.7" fill="#4a3024" opacity="0.81"/>
<ellipse cx="712.55" cy="275.52" rx="0.6" ry="0.69" fill="#4a3024" opacity="0.75"/>
<ellipse cx="708.08" cy="231.73" rx="1.0" ry="0.82" fill="#4a3024" opacity="0.68"/>
<ellipse cx="569.78" cy="270.05" rx="0.6" ry="0.95" fill="#4a3024" opacity="0.79"/>
<ellipse cx="585.24" cy="198" rx="1.2" ry="1.31" fill="#4a3024" opacity="0.82"/>
<ellipse cx="714.42" cy="237.32" rx="1.0" ry="1.53" fill="#4a3024" opacity="0.62"/>
<ellipse cx="699.41" cy="221.46" rx="1.0" ry="1.25" fill="#4a3024" opacity="0.54"/>
<ellipse cx="579.25" cy="238.26" rx="1.2" ry="1.01" fill="#4a3024" opacity="0.61"/>
<ellipse cx="643.48" cy="225.97" rx="0.6" ry="0.8" fill="#4a3024" opacity="0.43"/>
<ellipse cx="667.06" cy="233.62" rx="1.0" ry="0.66" fill="#4a3024" opacity="0.56"/>
<ellipse cx="663.52" cy="274.61" rx="1.2" ry="1.09" fill="#4a3024" opacity="0.58"/>
<ellipse cx="566.61" cy="261.26" rx="0.6" ry="0.85" fill="#4a3024" opacity="0.72"/>
<ellipse cx="675.15" cy="206.65" rx="1.0" ry="1.25" fill="#4a3024" opacity="0.85"/>
<ellipse cx="664.49" cy="205.28" rx="0.8" ry="1.21" fill="#4a3024" opacity="0.74"/>
</g>
</g>
<clipPath id="inclip"><rect x="539.5" y="7" width="162.5" height="177"/></clipPath>
<linearGradient id="inbg" x1="0" y1="0" x2="0.3" y2="1"><stop offset="0" stop-color="#799d95"/><stop offset="0.6" stop-color="#6f9088"/><stop offset="1" stop-color="#62827c"/></linearGradient>
<linearGradient id="twz" x1="0" y1="0" x2="1" y2="0"><stop offset="0" stop-color="#33473f"/><stop offset="1" stop-color="#4b635b"/></linearGradient>
<filter id="inblur" x="-0.1" y="-0.1" width="1.2" height="1.2"><feGaussianBlur stdDeviation="0.9"/></filter>
<g clip-path="url(#inclip)"><g filter="url(#inblur)">
<rect x="537" y="5" width="168" height="182" fill="url(#inbg)"/>
<ellipse cx="613" cy="100.4" rx="58.4" ry="61.9" fill="#6f8c81" stroke="#4c665e" stroke-width="1.3"/>
<path d="M 612 39.5 Q 632 41 646 49" stroke="#b4ccc4" stroke-width="3.2" fill="none" opacity="0.75"/>
<path d="M 625 30.8 L 702 40.5 L 702 54.5 L 625 37.6 Q 619 34.2 625 30.8 Z" fill="url(#twz)"/>
<path d="M 601 161.4 L 702 179 L 702 184.5 L 601 169.4 Q 595 165.4 601 161.4 Z" fill="url(#twz)"/>
<rect x="590.5" y="96" width="15" height="15" fill="#3b7d5e"/>
<rect x="597.5" y="97" width="8" height="13" fill="#4a9f70" opacity="0.85"/>
</g></g>
<rect x="763.4" y="84.4" width="147.8" height="147.2" fill="#fbf8f1"/>
<rect x="771" y="93" width="133.4" height="134" fill="#b2b783"/>
<line x1="850" y1="93" x2="850" y2="227" stroke="#7e8a60" stroke-width="0.8" opacity="0.7"/>
<g filter="url(#soft)">
<circle cx="831.26" cy="167.89" r="1.3" fill="#3a3a28" opacity="0.63"/>
<circle cx="884.01" cy="119.07" r="1.3" fill="#3a3a28" opacity="0.71"/>
<circle cx="875.88" cy="106.42" r="1.0" fill="#3a3a28" opacity="0.47"/>
<circle cx="842.57" cy="211.53" r="0.6" fill="#3a3a28" opacity="0.70"/>
<circle cx="823.9" cy="153.8" r="0.8" fill="#3a3a28" opacity="0.71"/>
<circle cx="880.95" cy="102.34" r="0.6" fill="#3a3a28" opacity="0.50"/>
<circle cx="803.69" cy="97.97" r="1.3" fill="#3a3a28" opacity="0.56"/>
<circle cx="849.42" cy="119.78" r="0.8" fill="#3a3a28" opacity="0.72"/>
<circle cx="837.47" cy="181.44" r="1.3" fill="#3a3a28" opacity="0.73"/>
<circle cx="825.29" cy="166.77" r="0.6" fill="#3a3a28" opacity="0.75"/>
<circle cx="813.3" cy="124.32" r="1.0" fill="#3a3a28" opacity="0.41"/>
<circle cx="845.77" cy="108.25" r="0.6" fill="#3a3a28" opacity="0.82"/>
<circle cx="822.63" cy="220.46" r="0.6" fill="#3a3a28" opacity="0.51"/>
<circle cx="893.44" cy="100.91" r="1.3" fill="#3a3a28" opacity="0.89"/>
<circle cx="824.06" cy="103.64" r="0.8" fill="#3a3a28" opacity="0.79"/>
<circle cx="807.34" cy="105.5" r="1.0" fill="#3a3a28" opacity="0.41"/>
<circle cx="825.72" cy="215.82" r="0.8" fill="#3a3a28" opacity="0.52"/>
<circle cx="785.24" cy="101.91" r="1.3" fill="#3a3a28" opacity="0.49"/>
<circle cx="845.27" cy="153.06" r="0.8" fill="#3a3a28" opacity="0.89"/>
<circle cx="872.81" cy="149.34" r="1.3" fill="#3a3a28" opacity="0.46"/>
<circle cx="827.12" cy="122.1" r="1.0" fill="#3a3a28" opacity="0.83"/>
<circle cx="899.71" cy="172.24" r="0.6" fill="#3a3a28" opacity="0.51"/>
<circle cx="823.65" cy="206.78" r="0.6" fill="#3a3a28" opacity="0.42"/>
<circle cx="791.17" cy="152.28" r="0.6" fill="#3a3a28" opacity="0.79"/>
<circle cx="815.09" cy="133.11" r="0.6" fill="#3a3a28" opacity="0.44"/>
<circle cx="799.34" cy="178.03" r="0.6" fill="#3a3a28" opacity="0.70"/>
<circle cx="820.69" cy="153.82" r="1.3" fill="#3a3a28" opacity="0.82"/>
<circle cx="789.78" cy="144.96" r="0.8" fill="#3a3a28" opacity="0.56"/>
<circle cx="801.92" cy="174.58" r="0.8" fill="#3a3a28" opacity="0.48"/>
<circle cx="854.4" cy="167.12" r="1.3" fill="#3a3a28" opacity="0.84"/>
<circle cx="851.06" cy="149.63" r="0.6" fill="#3a3a28" opacity="0.45"/>
<circle cx="839.12" cy="127.68" r="1.3" fill="#3a3a28" opacity="0.53"/>
<circle cx="879.91" cy="172.73" r="1.0" fill="#3a3a28" opacity="0.66"/>
<circle cx="893.73" cy="222.99" r="0.8" fill="#3a3a28" opacity="0.51"/>
<circle cx="845.28" cy="206.52" r="0.6" fill="#3a3a28" opacity="0.54"/>
<circle cx="892.17" cy="120.93" r="0.6" fill="#3a3a28" opacity="0.43"/>
<circle cx="825.9" cy="126.88" r="0.6" fill="#3a3a28" opacity="0.49"/>
<circle cx="820.31" cy="169.53" r="0.8" fill="#3a3a28" opacity="0.45"/>
<circle cx="790.13" cy="153.45" r="1.0" fill="#3a3a28" opacity="0.73"/>
<circle cx="862.55" cy="171.15" r="0.8" fill="#3a3a28" opacity="0.69"/>
<circle cx="892.99" cy="156.67" r="1.0" fill="#3a3a28" opacity="0.75"/>
<circle cx="898.12" cy="96.81" r="0.6" fill="#3a3a28" opacity="0.64"/>
<circle cx="867.7" cy="136.1" r="0.6" fill="#3a3a28" opacity="0.44"/>
<circle cx="843.54" cy="191.28" r="0.8" fill="#3a3a28" opacity="0.80"/>
<circle cx="891.87" cy="140.44" r="1.3" fill="#3a3a28" opacity="0.85"/>
<circle cx="886.11" cy="149.06" r="0.6" fill="#3a3a28" opacity="0.83"/>
<circle cx="847.04" cy="176.49" r="1.3" fill="#3a3a28" opacity="0.59"/>
<circle cx="773.63" cy="103.54" r="0.6" fill="#3a3a28" opacity="0.72"/>
<circle cx="902.13" cy="210.13" r="1.0" fill="#3a3a28" opacity="0.59"/>
<circle cx="868.29" cy="170.69" r="1.3" fill="#3a3a28" opacity="0.63"/>
<circle cx="842.9" cy="162.47" r="0.6" fill="#3a3a28" opacity="0.56"/>
<circle cx="783.49" cy="96.94" r="0.6" fill="#3a3a28" opacity="0.65"/>
<circle cx="852.5" cy="215.5" r="1.0" fill="#3a3a28" opacity="0.85"/>
<circle cx="820.2" cy="112.91" r="0.8" fill="#3a3a28" opacity="0.66"/>
<circle cx="870.74" cy="139.21" r="1.3" fill="#3a3a28" opacity="0.65"/>
</g>
<g filter="url(#soft)" fill="#5a3a2c">
<ellipse cx="822" cy="87" rx="1.5" ry="2.4" opacity="0.75"/><ellipse cx="824.5" cy="87.3" rx="1" ry="2" opacity="0.6"/>
<ellipse cx="846" cy="228.5" rx="1.8" ry="2.6" opacity="0.85"/><ellipse cx="849" cy="228" rx="1.2" ry="2.2" opacity="0.7"/>
<ellipse cx="910.5" cy="165" rx="1.2" ry="2.2" opacity="0.6"/>
</g>
<g stroke="#e3262a" stroke-width="1.6" fill="none" stroke-linecap="round">
<line x1="764" y1="78.2" x2="915.5" y2="78.2"/>
<polyline points="772,73.5 764,78.2 772,83"/>
<polyline points="907.5,73.5 915.5,78.2 907.5,83"/>
<line x1="918.8" y1="87.5" x2="918.8" y2="231.5"/>
<polyline points="914,95.5 918.8,87.5 923.6,95.5"/>
<polyline points="914,223.5 918.8,231.5 923.6,223.5"/>
</g>
<text transform="translate(808.99 75.2) scale(0.9995 1)" font-family='"Liberation Sans", sans-serif' font-size="26.45" fill="#231b15">1mm</text>
<text transform="translate(922.82 168.5) scale(1.0545 1)" font-family='"Liberation Sans", sans-serif' font-size="24.71" fill="#231b15">1mm</text>
<text transform="translate(773.05 219.8) scale(1.0009 1)" font-family='"Liberation Sans", sans-serif' font-size="20.83" fill="#231b15">Si-MR</text>
<text transform="translate(552.19 278.79) scale(1.0075 1)" font-family='"Liberation Sans", sans-serif' font-size="21.92" fill="#231b15">Diamond substrate</text>
<text transform="translate(779.56 317.68) scale(1.0179 1)" font-family='"Liberation Serif", serif' font-size="27.79" fill="#161616">(b)</text>
<rect x="90" y="330.2" width="376.9" height="290.7" fill="none" stroke="#000" stroke-width="2"/>
<path d="M90 608.2h7.2M466.9 608.2h-7.2M90 541.7h7.2M466.9 541.7h-7.2M90 475.2h7.2M466.9 475.2h-7.2M90 408.7h7.2M466.9 408.7h-7.2M90 342.2h7.2M466.9 342.2h-7.2M90 594.9h4M466.9 594.9h-4M90 581.6h4M466.9 581.6h-4M90 568.3h4M466.9 568.3h-4M90 555h4M466.9 555h-4M90 528.4h4M466.9 528.4h-4M90 515.1h4M466.9 515.1h-4M90 501.8h4M466.9 501.8h-4M90 488.5h4M466.9 488.5h-4M90 461.9h4M466.9 461.9h-4M90 448.6h4M466.9 448.6h-4M90 435.3h4M466.9 435.3h-4M90 422h4M466.9 422h-4M90 395.4h4M466.9 395.4h-4M90 382.1h4M466.9 382.1h-4M90 368.8h4M466.9 368.8h-4M90 355.5h4M466.9 355.5h-4M99.42 330.2v4M99.42 620.9v-4M108.84 330.2v4M108.84 620.9v-4M118.27 330.2v4M118.27 620.9v-4M127.69 330.2v4M127.69 620.9v-4M137.11 330.2v4M137.11 620.9v-4M146.53 330.2v4M146.53 620.9v-4M155.96 330.2v4M155.96 620.9v-4M165.38 330.2v4M165.38 620.9v-4M174.8 330.2v4M174.8 620.9v-4M184.22 330.2v7.2M184.22 620.9v-7.2M193.65 330.2v4M193.65 620.9v-4M203.07 330.2v4M203.07 620.9v-4M212.49 330.2v4M212.49 620.9v-4M221.91 330.2v4M221.91 620.9v-4M231.34 330.2v4M231.34 620.9v-4M240.76 330.2v4M240.76 620.9v-4M250.18 330.2v4M250.18 620.9v-4M259.61 330.2v4M259.61 620.9v-4M269.03 330.2v4M269.03 620.9v-4M278.45 330.2v7.2M278.45 620.9v-7.2M287.87 330.2v4M287.87 620.9v-4M297.29 330.2v4M297.29 620.9v-4M306.72 330.2v4M306.72 620.9v-4M316.14 330.2v4M316.14 620.9v-4M325.56 330.2v4M325.56 620.9v-4M334.99 330.2v4M334.99 620.9v-4M344.41 330.2v4M344.41 620.9v-4M353.83 330.2v4M353.83 620.9v-4M363.25 330.2v4M363.25 620.9v-4M372.68 330.2v7.2M372.68 620.9v-7.2M382.1 330.2v4M382.1 620.9v-4M391.52 330.2v4M391.52 620.9v-4M400.94 330.2v4M400.94 620.9v-4M410.36 330.2v4M410.36 620.9v-4M419.79 330.2v4M419.79 620.9v-4M429.21 330.2v4M429.21 620.9v-4M438.63 330.2v4M438.63 620.9v-4M448.06 330.2v4M448.06 620.9v-4M457.48 330.2v4M457.48 620.9v-4" stroke="#000" stroke-width="1.9" fill="none"/>
<text transform="translate(42.01 351.5) scale(1.0000 1)" font-family='"Liberation Sans", sans-serif' font-size="27.00" fill="#141414">100</text>
<text transform="translate(57.1 418) scale(1.0000 1)" font-family='"Liberation Sans", sans-serif' font-size="27.00" fill="#141414">95</text>
<text transform="translate(57.02 484.5) scale(1.0000 1)" font-family='"Liberation Sans", sans-serif' font-size="27.00" fill="#141414">90</text>
<text transform="translate(57.1 551) scale(1.0000 1)" font-family='"Liberation Sans", sans-serif' font-size="27.00" fill="#141414">85</text>
<text transform="translate(57.02 617.5) scale(1.0000 1)" font-family='"Liberation Sans", sans-serif' font-size="27.00" fill="#141414">80</text>
<text transform="translate(59.47 648.8) scale(1.0000 1)" font-family='"Liberation Sans", sans-serif' font-size="27.00" fill="#141414">1200</text>
<text transform="translate(153.69 648.8) scale(1.0000 1)" font-family='"Liberation Sans", sans-serif' font-size="27.00" fill="#141414">1300</text>
<text transform="translate(247.92 648.8) scale(1.0000 1)" font-family='"Liberation Sans", sans-serif' font-size="27.00" fill="#141414">1400</text>
<text transform="translate(342.14 648.8) scale(1.0000 1)" font-family='"Liberation Sans", sans-serif' font-size="27.00" fill="#141414">1500</text>
<text transform="translate(436.37 648.8) scale(1.0000 1)" font-family='"Liberation Sans", sans-serif' font-size="27.00" fill="#141414">1600</text>
<text transform="translate(175.28 676.2) scale(1.0115 1)" font-family='"Liberation Sans", sans-serif' font-size="26.50" fill="#141414">Wavelength (nm)</text>
<text transform="translate(29.71 560.99) rotate(-90) scale(1.0069 1)" font-family='"Liberation Sans", sans-serif' font-size="26.51" fill="#141414">Reflection (%)</text>
<clipPath id="cclip"><rect x="90" y="330.2" width="376.9" height="290.7"/></clipPath>
<g clip-path="url(#cclip)">
<linearGradient id="g1" x1="0" y1="0" x2="0" y2="1"><stop offset="0" stop-color="#a4c5f6"/><stop offset="0.45" stop-color="#86abee"/><stop offset="1" stop-color="#3e7ed6"/></linearGradient>
<rect x="149.5" y="552.6" width="226" height="3.5" fill="#6a7498" opacity="0.45" filter="url(#soft)"/>
<rect x="148.5" y="463.5" width="226" height="64.7" fill="url(#g1)" stroke="#6887c0" stroke-width="1"/>
<rect x="148.5" y="529.2" width="226" height="24.4" fill="#a6a6a8" stroke="#5d6fa0" stroke-width="1.1"/>
<rect x="168" y="530.5" width="22" height="22.2" fill="#fff" stroke="#5f72a6" stroke-width="0.9"/>
<rect x="208.5" y="530.5" width="22" height="22.2" fill="#fff" stroke="#5f72a6" stroke-width="0.9"/>
<rect x="248.5" y="530.5" width="22" height="22.2" fill="#fff" stroke="#5f72a6" stroke-width="0.9"/>
<rect x="288.2" y="530.5" width="22" height="22.2" fill="#fff" stroke="#5f72a6" stroke-width="0.9"/>
<rect x="328.2" y="530.5" width="22" height="22.2" fill="#fff" stroke="#5f72a6" stroke-width="0.9"/>
<text transform="translate(149.2 503.81) scale(0.9811 1)" font-family='"Liberation Sans", sans-serif' font-size="19.88" fill="#e8f3ff">Diamond</text>
<path d="M256.2 478.4 H270.4 V495.7 H277.8 L263.3 510.4 L249.4 495.7 H256.2 Z" fill="#f80000"/>
<path d="M90 462.78 L91.6 462.3 L93.2 461.71 L94.8 461.26 L95.78 459.53 L96.75 458.38 L97.72 455.62 L98.7 454.85 L99.84 454.41 L100.98 452.8 L102.12 452.02 L103.26 449.68 L104.4 449.05 L105.85 447.77 L107.3 447.27 L108.26 445.77 L109.22 443.39 L110.18 442.16 L111.14 440.71 L112.1 440.12 L115 438.9 L116.2 436.79 L117.4 436.55 L118.6 434.36 L119.8 433.88 L120.93 431.37 L122.07 429.42 L123.2 428.96 L124.97 427.96 L126.73 427.97 L128.5 429.12 L130.4 427.76 L132.3 425.68 L133.75 425.49 L135.2 423.66 L136.65 422.67 L138.1 420.76 L139.55 420.54 L141 418.84 L142.45 417.92 L143.9 416.49 L145.8 415.85 L147.7 416.19 L149.33 416.7 L150.97 417.47 L152.6 418.15 L154.5 418 L156.4 417.95 L158.3 416.56 L159.27 416.13 L160.23 414.19 L161.2 412.71 L163.15 412.73 L165.1 411.47 L166.93 412.26 L168.77 413.54 L170.6 414.91 L171.8 412.84 L173 413.11 L174.2 410.58 L175.4 410.57 L176.6 409.62 L177.8 407.28 L179.24 409.13 L180.68 409.2 L182.12 410.22 L183.56 410.06 L185 410.82 L186.47 410.35 L187.94 410.84 L189.41 409.03 L190.89 409.2 L192.36 408.79 L193.83 408.13 L195.3 406.57 L196.96 407.12 L198.62 407.92 L200.28 408.83 L201.94 408.37 L203.6 409.87 L205.24 410.27 L206.88 410.68 L208.52 409.76 L210.16 411.45 L211.8 410.49 L213.44 410.94 L215.08 411.43 L216.72 411.97 L218.36 411.18 L220 412.14 L221.57 412.34 L223.15 412.77 L224.73 413.55 L226.3 414.12 L227.21 412.59 L228.12 411.32 L229.03 410.75 L229.94 409.83 L230.86 407.2 L231.77 405.66 L232.68 405.69 L233.59 403.63 L234.5 402.06 L236.32 401.31 L238.15 401.34 L239.98 401.19 L241.8 400.13 L243.24 399.16 L244.68 397.69 L246.12 398.06 L247.56 395.82 L249 395.59 L250.47 396.76 L251.94 396.36 L253.41 397.92 L254.89 398.9 L256.36 399.08 L257.83 399.97 L259.3 399.61 L261.03 399.07 L262.77 397.61 L264.5 397.62 L265.67 398.18 L266.84 399.8 L268.01 402.01 L269.19 403.17 L270.36 404.74 L271.53 405.34 L272.7 406.78 L274.36 406.44 L276.02 405.37 L277.68 404.39 L279.34 403.86 L281 402.77 L282.55 403.8 L284.1 405.4 L285.65 406.04 L287.2 406.22 L288.75 406.72 L290.3 407.16 L292.02 407.12 L293.73 407.73 L295.45 408.82 L297.17 409.28 L298.88 408.86 L300.6 409.83 L302.15 410.51 L303.7 411.09 L305.25 411.75 L306.8 412.59 L308.35 412.7 L309.9 413.91 L310.93 411.72 L311.97 410.48 L313 409.35 L314.03 407.69 L315.07 405.54 L316.1 404.97 L317.14 405.96 L318.18 407.3 L319.22 407.89 L320.26 410.13 L321.3 411.13 L322.74 412.58 L324.18 413.08 L325.62 414.44 L327.06 415 L328.5 416.05 L329.53 416.7 L330.56 418.47 L331.59 419.94 L332.61 421.41 L333.64 422.02 L334.67 424.09 L335.7 425.45 L336.73 426.73 L337.77 428.71 L338.8 430.23 L339.83 431.13 L340.87 432.69 L341.9 433.7 L343.95 434.2 L346 433.86 L346.87 434.7 L347.73 436.55 L348.6 438.13 L349.47 439.68 L350.33 440.37 L351.2 442.82 L352.48 443.57 L353.75 444.75 L355.02 445.43 L356.3 446.79 L357.34 448.45 L358.38 449.69 L359.42 451.25 L360.46 451.65 L361.5 453.29 L362.74 454.95 L363.98 456.51 L365.22 457.1 L366.46 459.04 L367.7 460.2 L368.9 458.11 L370.1 457.56 L371.3 455.99 L372.5 454.53 L373.7 453.45 L374.9 452.53 L375.9 453.72 L376.9 455.14 L377.9 456.3 L378.9 458.35 L379.9 459.62 L381 461.51 L382.1 463.02 L383.2 464.03 L384.3 466.56 L385.4 466.75 L386.01 468.96 L386.62 470.37 L387.23 472.17 L387.84 473.32 L388.46 476 L389.07 476.91 L389.68 478 L390.29 480.47 L390.9 481.29 L391.76 480.61 L392.61 478.95 L393.47 477.95 L394.32 477.17 L395.18 475.6 L396.03 473.65 L396.89 472.88 L397.74 471.27 L398.6 469.5 L399.1 470.77 L399.6 473.06 L400.1 474.62 L400.6 476.82 L401.1 478.45 L401.6 479.52 L402.1 480.74 L402.6 483.16 L403.1 483.43 L403.6 485.2 L404.1 487.5 L405.2 489.22 L406.3 490.16 L407.4 492.54 L408.5 494.59 L408.87 495.4 L409.23 497.08 L409.6 498.36 L409.97 500.04 L410.33 502.65 L410.7 503.35 L411.07 505.81 L411.43 507.33 L411.8 508.44 L412.48 506.18 L413.16 505.5 L413.84 503.01 L414.52 501.13 L415.2 499.23 L415.75 501.88 L416.3 502.79 L416.85 504.13 L417.4 506.07 L417.95 507.18 L418.5 509.58 L419.16 510.86 L419.82 512.17 L420.48 514.44 L421.14 516.05 L421.8 516.37 L422.46 515.61 L423.12 513.68 L423.78 513.13 L424.44 511.36 L425.1 509.02 L425.57 510.78 L426.04 512.34 L426.51 515.32 L426.99 516 L427.46 518.2 L427.93 519.73 L428.4 521.72 L428.97 523.42 L429.53 525.4 L430.1 526.23 L430.67 528.96 L431.23 530.03 L431.8 532.15 L432.01 533.51 L432.22 535.1 L432.43 537.11 L432.64 538.66 L432.85 540.16 L433.05 542.39 L433.26 543.82 L433.47 544.64 L433.68 546.62 L433.89 548.58 L434.1 550.92 L436 548.58 L436.32 549.69 L436.65 550.52 L436.98 553.29 L437.3 554.39 L437.62 556.24 L437.95 558.06 L438.28 559.57 L438.6 560.97 L438.84 559.93 L439.08 557.44 L439.32 555.76 L439.55 554.76 L439.79 552.08 L440.03 550.54 L440.27 549.65 L440.51 546.81 L440.75 546.27 L440.98 544.37 L441.22 542.28 L441.46 540.37 L441.7 539.42 L442.14 541.28 L442.58 541.78 L443.02 543.95 L443.46 545.71 L443.9 547.3 L444.95 548.45 L446 549.58 L446.15 551.82 L446.3 553.76 L446.46 554.24 L446.61 556.08 L446.76 558.56 L446.91 560.11 L447.07 561.51 L447.22 562.15 L447.37 564.79 L447.52 566.77 L447.68 568.4 L447.83 569.54 L447.98 570.16 L448.13 572.95 L448.29 573.61 L448.44 575.84 L448.59 577.9 L448.74 579.13 L448.9 579.86 L449.05 581.69 L449.2 584.23 L449.64 581.35 L450.09 580.31 L450.53 578.29 L450.97 576.18 L451.41 575.14 L451.86 572.54 L452.3 570.91 L452.86 569.71 L453.43 567.63 L453.99 566 L454.55 565.16 L455.11 563.8 L455.68 562.39 L456.24 559.66 L456.8 558.5 L457.3 559.97 L457.8 562.05 L458.3 563.53 L458.8 565.86 L459.3 566.66 L459.8 567.83 L460.19 567.08 L460.57 564.55 L460.96 563.56 L461.35 561.66 L461.74 560.55 L462.12 558.31 L462.51 556.69 L462.9 554.44 L463.53 556.39 L464.17 557.46 L464.8 559.73 L465.43 560.89 L466.07 561.83 L466.7 563.9" stroke="#0202f4" stroke-width="3.9" fill="none" stroke-linejoin="round"/>
<path d="M91.1 397.1 L108.6 390.9 L129.3 382.6 L149.9 374.4 L170.6 367.2 L191.2 359.9 L211.8 353.7 L232.5 349.6 L246.9 346.1 L263.4 345.5 L280 345.5 L300.6 348.2 L321.3 350.6 L333.6 352.7 L341.9 356.8 L362.5 376.4 L383.2 395 L403.8 412.5 L424.4 429 L445 444.5 L466.7 459" stroke="#fa0000" stroke-width="5.6" fill="none" stroke-dasharray="15.5 5.3"/>
</g>
<line x1="103.8" y1="573.5" x2="140.4" y2="573.5" stroke="#0202f4" stroke-width="3.1"/>
<path d="M103.8 600H119.9M125 600H140.4" stroke="#fa0000" stroke-width="5"/>
<text transform="translate(142.28 581.49) scale(1.0290 1)" font-family='"Liberation Sans", sans-serif' font-size="21.51" fill="#141414">Measured</text>
<text transform="translate(143.09 609.59) scale(1.0160 1)" font-family='"Liberation Sans", sans-serif' font-size="21.92" fill="#141414">Simulated</text>
<text transform="translate(269.28 711.34) scale(0.9885 1)" font-family='"Liberation Serif", serif' font-size="28.01" fill="#161616">(c)</text>
<rect x="615.8" y="329" width="377.8" height="293.3" fill="none" stroke="#000" stroke-width="2"/>
<path d="M615.8 619.1h7.2M993.6 619.1h-7.2M615.8 562.02h7.2M993.6 562.02h-7.2M615.8 504.94h7.2M993.6 504.94h-7.2M615.8 447.86h7.2M993.6 447.86h-7.2M615.8 390.78h7.2M993.6 390.78h-7.2M615.8 333.7h7.2M993.6 333.7h-7.2M615.8 607.68h4M993.6 607.68h-4M615.8 596.27h4M993.6 596.27h-4M615.8 584.85h4M993.6 584.85h-4M615.8 573.44h4M993.6 573.44h-4M615.8 550.6h4M993.6 550.6h-4M615.8 539.19h4M993.6 539.19h-4M615.8 527.77h4M993.6 527.77h-4M615.8 516.36h4M993.6 516.36h-4M615.8 493.52h4M993.6 493.52h-4M615.8 482.11h4M993.6 482.11h-4M615.8 470.69h4M993.6 470.69h-4M615.8 459.28h4M993.6 459.28h-4M615.8 436.44h4M993.6 436.44h-4M615.8 425.03h4M993.6 425.03h-4M615.8 413.61h4M993.6 413.61h-4M615.8 402.2h4M993.6 402.2h-4M615.8 379.36h4M993.6 379.36h-4M615.8 367.95h4M993.6 367.95h-4M615.8 356.53h4M993.6 356.53h-4M615.8 345.12h4M993.6 345.12h-4M625.25 329v4M625.25 622.3v-4M634.69 329v4M634.69 622.3v-4M644.13 329v4M644.13 622.3v-4M653.58 329v4M653.58 622.3v-4M663.02 329v4M663.02 622.3v-4M672.47 329v4M672.47 622.3v-4M681.91 329v4M681.91 622.3v-4M691.36 329v4M691.36 622.3v-4M700.8 329v4M700.8 622.3v-4M710.25 329v7.2M710.25 622.3v-7.2M719.69 329v4M719.69 622.3v-4M729.14 329v4M729.14 622.3v-4M738.59 329v4M738.59 622.3v-4M748.03 329v4M748.03 622.3v-4M757.47 329v4M757.47 622.3v-4M766.92 329v4M766.92 622.3v-4M776.37 329v4M776.37 622.3v-4M785.81 329v4M785.81 622.3v-4M795.25 329v4M795.25 622.3v-4M804.7 329v7.2M804.7 622.3v-7.2M814.14 329v4M814.14 622.3v-4M823.59 329v4M823.59 622.3v-4M833.03 329v4M833.03 622.3v-4M842.48 329v4M842.48 622.3v-4M851.92 329v4M851.92 622.3v-4M861.37 329v4M861.37 622.3v-4M870.82 329v4M870.82 622.3v-4M880.26 329v4M880.26 622.3v-4M889.7 329v4M889.7 622.3v-4M899.15 329v7.2M899.15 622.3v-7.2M908.6 329v4M908.6 622.3v-4M918.04 329v4M918.04 622.3v-4M927.49 329v4M927.49 622.3v-4M936.93 329v4M936.93 622.3v-4M946.38 329v4M946.38 622.3v-4M955.82 329v4M955.82 622.3v-4M965.27 329v4M965.27 622.3v-4M974.71 329v4M974.71 622.3v-4M984.15 329v4M984.15 622.3v-4" stroke="#000" stroke-width="1.9" fill="none"/>
<text transform="translate(568.21 343) scale(1.0000 1)" font-family='"Liberation Sans", sans-serif' font-size="27.00" fill="#141414">100</text>
<text transform="translate(583.22 400.08) scale(1.0000 1)" font-family='"Liberation Sans", sans-serif' font-size="27.00" fill="#141414">80</text>
<text transform="translate(583.22 457.16) scale(1.0000 1)" font-family='"Liberation Sans", sans-serif' font-size="27.00" fill="#141414">60</text>
<text transform="translate(583.22 514.24) scale(1.0000 1)" font-family='"Liberation Sans", sans-serif' font-size="27.00" fill="#141414">40</text>
<text transform="translate(583.22 571.32) scale(1.0000 1)" font-family='"Liberation Sans", sans-serif' font-size="27.00" fill="#141414">20</text>
<text transform="translate(598.24 628.4) scale(1.0000 1)" font-family='"Liberation Sans", sans-serif' font-size="27.00" fill="#141414">0</text>
<text transform="translate(585.27 649.3) scale(1.0000 1)" font-family='"Liberation Sans", sans-serif' font-size="27.00" fill="#141414">1200</text>
<text transform="translate(679.72 649.3) scale(1.0000 1)" font-family='"Liberation Sans", sans-serif' font-size="27.00" fill="#141414">1300</text>
<text transform="translate(774.17 649.3) scale(1.0000 1)" font-family='"Liberation Sans", sans-serif' font-size="27.00" fill="#141414">1400</text>
<text transform="translate(868.62 649.3) scale(1.0000 1)" font-family='"Liberation Sans", sans-serif' font-size="27.00" fill="#141414">1500</text>
<text transform="translate(963.07 649.3) scale(1.0000 1)" font-family='"Liberation Sans", sans-serif' font-size="27.00" fill="#141414">1600</text>
<text transform="translate(702.18 676.32) scale(1.0116 1)" font-family='"Liberation Sans", sans-serif' font-size="26.39" fill="#141414">Wavelength (nm)</text>
<text transform="translate(556.81 560.68) rotate(-90) scale(1.0032 1)" font-family='"Liberation Sans", sans-serif' font-size="26.51" fill="#141414">Reflection (%)</text>
<clipPath id="dclip"><rect x="615.8" y="329" width="377.8" height="293.3"/></clipPath>
<g clip-path="url(#dclip)">
<linearGradient id="g2" x1="0" y1="0" x2="0" y2="1"><stop offset="0" stop-color="#a4c5f6"/><stop offset="0.45" stop-color="#86abee"/><stop offset="1" stop-color="#3e7ed6"/></linearGradient>
<rect x="690.3" y="499.6" width="224.6" height="3.5" fill="#6a7498" opacity="0.45" filter="url(#soft)"/>
<rect x="689.3" y="410.5" width="224.6" height="67.6" fill="url(#g2)" stroke="#6887c0" stroke-width="1"/>
<rect x="689.3" y="479.1" width="224.6" height="21.5" fill="#a6a6a8" stroke="#5d6fa0" stroke-width="1.1"/>
<rect x="708" y="480.4" width="22" height="19.3" fill="#fff" stroke="#5f72a6" stroke-width="0.9"/>
<rect x="748" y="480.4" width="22" height="19.3" fill="#fff" stroke="#5f72a6" stroke-width="0.9"/>
<rect x="788" y="480.4" width="22" height="19.3" fill="#fff" stroke="#5f72a6" stroke-width="0.9"/>
<rect x="827.8" y="480.4" width="22" height="19.3" fill="#fff" stroke="#5f72a6" stroke-width="0.9"/>
<rect x="867.6" y="480.4" width="22" height="19.3" fill="#fff" stroke="#5f72a6" stroke-width="0.9"/>
<text transform="translate(760.19 459.6) scale(0.9743 1)" font-family='"Liberation Sans", sans-serif' font-size="20.15" fill="#e2efff">Diamond</text>
<path d="M802 533.8 V522 H793.5 L809.8 508.6 L826 522 H818 V533.8 Z" fill="#f80000"/>
<path d="M616.8 551.83 L617.52 551.72 L618.23 551.35 L618.95 552.71 L619.66 551.21 L620.38 552.16 L621.09 552.92 L621.81 551.5 L622.52 552.4 L623.24 552.56 L623.95 551.57 L624.67 552.23 L625.38 552.87 L626.1 552.46 L626.82 553.01 L627.53 552.03 L628.25 552.23 L628.96 552.05 L629.68 552.81 L630.39 553.61 L631.11 553.06 L631.82 553.44 L632.54 552.79 L633.25 553.49 L633.97 552.38 L634.68 552.77 L635.4 553.51 L636.05 553.93 L636.7 553.71 L637.35 553.43 L638 554.08 L638.65 554.3 L639.3 554.76 L639.95 556.03 L640.6 555.26 L641.25 556.82 L641.9 557.13 L642.55 555.97 L643.2 556.88 L643.91 557.18 L644.62 556.42 L645.33 557.24 L646.04 558.2 L646.75 556.86 L647.45 557.82 L648.16 557.05 L648.87 557.97 L649.58 558.63 L650.29 557.47 L651 557.21 L651.65 557.61 L652.3 558.68 L652.96 558 L653.61 558.37 L654.26 559.37 L654.91 560.39 L655.56 559.75 L656.21 559.96 L656.87 560.65 L657.52 559.92 L658.17 561.05 L658.82 560.58 L659.47 561.62 L660.13 562.5 L660.78 561.13 L661.43 562.29 L662.08 562.64 L662.73 562.07 L663.39 562.54 L664.04 564.1 L664.69 564.36 L665.34 563.04 L665.99 564.35 L666.64 565.04 L667.3 564.02 L667.95 564.94 L668.6 564.18 L669.3 564.94 L669.99 565.68 L670.69 565.72 L671.39 566.24 L672.08 565.18 L672.78 565.84 L673.48 566.96 L674.17 566.64 L674.87 566.58 L675.56 566.68 L676.26 567.92 L676.96 567.36 L677.65 566.55 L678.35 568.14 L679.05 567.48 L679.74 567.85 L680.44 567.64 L681.14 568.24 L681.83 568.21 L682.53 567.97 L683.23 569.13 L683.92 568.37 L684.62 569.78 L685.31 568.6 L686.01 570.15 L686.71 570.38 L687.4 570.01 L688.1 570.58 L688.78 570.01 L689.45 571.14 L690.13 570.84 L690.8 570.75 L691.48 572.33 L692.16 571.57 L692.83 571.78 L693.51 572.92 L694.18 572.29 L694.86 573.09 L695.53 572.45 L696.21 573.92 L696.89 573.13 L697.56 573.01 L698.24 574.93 L698.91 573.75 L699.59 575.4 L700.27 575.73 L700.94 575.31 L701.62 574.49 L702.29 574.84 L702.97 575.37 L703.64 575.95 L704.32 576.61 L705 577.51 L705.67 576.66 L706.35 576.54 L707.02 577.55 L707.7 577.05 L708.37 577.16 L709.04 578.2 L709.72 578.65 L710.39 577.72 L711.06 578.61 L711.73 579.27 L712.41 579.58 L713.08 579.09 L713.75 580.2 L714.42 579.1 L715.1 580.29 L715.77 580.59 L716.44 580.98 L717.11 580.49 L717.79 579.98 L718.46 580.09 L719.13 581.15 L719.8 580.71 L720.48 581.73 L721.15 580.95 L721.82 582.4 L722.49 581.6 L723.17 581.42 L723.84 581.92 L724.51 582.62 L725.18 583.01 L725.86 582.9 L726.53 582.71 L727.2 583.47 L727.9 584.48 L728.59 583.91 L729.29 584.82 L729.99 583.35 L730.68 585.26 L731.38 585.25 L732.08 584.8 L732.77 584.94 L733.47 585.14 L734.16 585.99 L734.86 584.64 L735.56 585.86 L736.25 585.85 L736.95 585.59 L737.65 586.53 L738.34 586.7 L739.04 585.76 L739.74 587.01 L740.43 586.74 L741.13 586.98 L741.83 587.42 L742.52 586.55 L743.22 587.71 L743.91 587.47 L744.61 588.56 L745.31 587.57 L746 588.81 L746.7 588.81 L747.41 588.67 L748.12 589.17 L748.83 587.7 L749.54 588.76 L750.25 588.83 L750.95 588.99 L751.66 588.55 L752.37 587.99 L753.08 588.25 L753.79 589.05 L754.5 588.33 L755.21 588.16 L755.92 588.73 L756.63 588.98 L757.34 589.15 L758.05 588.27 L758.75 589.67 L759.46 588.92 L760.17 589.77 L760.88 588.42 L761.59 590.17 L762.3 589.56 L762.98 590.11 L763.67 589.98 L764.36 589.55 L765.04 588.09 L765.72 588.38 L766.41 588.02 L767.1 588.85 L767.78 587.65 L768.46 587.55 L769.15 587.2 L769.84 587.07 L770.52 588.39 L771.2 588.31 L771.89 587.07 L772.58 587.58 L773.26 586.94 L773.94 586.89 L774.63 586.47 L775.32 586.79 L776 585.93 L776.7 585.82 L777.39 586.15 L778.09 585.44 L778.79 585.73 L779.48 586.5 L780.18 584.7 L780.88 584.71 L781.57 585.83 L782.27 584.35 L782.96 584.56 L783.66 585.5 L784.36 584.92 L785.05 584.09 L785.75 583.66 L786.45 583.91 L787.14 583.81 L787.84 584.57 L788.54 584.75 L789.23 584.27 L789.93 584.34 L790.62 584.25 L791.32 584.01 L792.02 583.95 L792.71 583.9 L793.41 582.19 L794.11 582.45 L794.8 582.18 L795.5 582.69 L796.14 582.14 L796.79 581.54 L797.43 582.08 L798.07 580.95 L798.71 580.26 L799.36 580.04 L800 580.03 L800.7 580.19 L801.39 580.01 L802.09 579.67 L802.79 579.09 L803.48 579.38 L804.18 579.13 L804.88 578.73 L805.57 579.33 L806.27 578.54 L806.96 579.43 L807.66 579.23 L808.36 578.11 L809.05 578.95 L809.75 578.28 L810.45 578.39 L811.14 578.6 L811.84 578.8 L812.54 578.94 L813.23 578.53 L813.93 577.37 L814.62 577.94 L815.32 577.41 L816.02 576.65 L816.71 577.64 L817.41 577.36 L818.11 578.08 L818.8 576.84 L819.5 577.8 L820.2 576.99 L820.89 575.97 L821.59 577.15 L822.29 576.08 L822.98 576.48 L823.68 575.33 L824.38 575.05 L825.07 576.91 L825.77 574.83 L826.46 574.93 L827.16 574.82 L827.86 574.52 L828.55 576.02 L829.25 576.27 L829.95 575.35 L830.64 574.63 L831.34 575.63 L832.04 574.61 L832.73 573.61 L833.43 574.76 L834.12 573.84 L834.82 573.49 L835.52 573.47 L836.21 573.48 L836.91 572.86 L837.61 573.75 L838.3 574.23 L839 573.37 L839.7 571.97 L840.4 573.59 L841.1 571.92 L841.8 573.02 L842.5 573.95 L843.2 573.45 L843.9 574 L844.6 573.58 L845.3 572.34 L846 571.98 L846.7 572.72 L847.4 573.27 L848.1 572.09 L848.8 572.31 L849.5 573.36 L850.2 572.29 L850.9 572.92 L851.6 572.74 L852.3 573.72 L853 571.3 L853.7 571.69 L854.4 573.24 L855.1 572.91 L855.8 571.34 L856.5 571.41 L857.2 571.58 L857.9 572.45 L858.6 573.4 L859.32 571.5 L860.04 571.44 L860.77 572.75 L861.49 572 L862.21 573.16 L862.93 573.57 L863.66 573.37 L864.38 572.73 L865.1 572.09 L865.82 570.82 L866.54 572.94 L867.27 571.74 L867.99 571.91 L868.71 572.37 L869.43 573.32 L870.16 572.11 L870.88 573.15 L871.6 573.27 L872.32 570.65 L873.04 571.42 L873.77 572.99 L874.49 572.61 L875.21 573.2 L875.93 570.82 L876.66 571.84 L877.38 573.04 L878.1 571.82 L878.8 572.24 L879.5 573.2 L880.2 570.76 L880.9 570.41 L881.6 572.91 L882.3 572.08 L883 570.91 L883.7 572.91 L884.4 571.21 L885.1 570.74 L885.8 571.29 L886.5 570.48 L887.2 571.68 L887.9 572.9 L888.6 571.87 L889.3 573.54 L890 570.58 L890.7 571.02 L891.4 570.95 L892.1 572.37 L892.8 571.16 L893.5 572.72 L894.2 572.27 L894.9 572.48 L895.6 573.38 L896.3 573.23 L897 573.69 L897.7 571.13 L898.42 571.93 L899.14 573.93 L899.87 572.05 L900.59 571.7 L901.31 572.4 L902.03 571.37 L902.76 573.78 L903.48 573.06 L904.2 571.11 L904.92 574.37 L905.64 572.74 L906.37 571.76 L907.09 573.17 L907.81 574.53 L908.53 572.19 L909.26 570.88 L909.98 571.64 L910.7 571.08 L911.42 573.05 L912.14 572.17 L912.87 574.5 L913.59 571.77 L914.31 570.95 L915.03 572.94 L915.76 571.45 L916.48 572.31 L917.2 571.95 L917.92 571.72 L918.64 573.83 L919.37 575.25 L920.09 572.58 L920.81 573.87 L921.53 572.34 L922.26 575.23 L922.98 573.46 L923.7 570.85 L924.42 574.42 L925.14 571.72 L925.87 570.87 L926.59 570.7 L927.31 574.98 L928.03 574.31 L928.76 572.44 L929.48 573.51 L930.2 574.32 L930.92 570.87 L931.64 574.34 L932.37 574.37 L933.09 575.69 L933.81 570.7 L934.53 573.61 L935.26 573.25 L935.98 575.22 L936.7 572.4 L937.4 574.23 L938.1 575.71 L938.8 572.5 L939.5 573.58 L940.2 575.96 L940.9 570.76 L941.6 576.64 L942.3 572.6 L943 573.57 L943.7 572.57 L944.4 575.89 L945.1 574.27 L945.8 575.74 L946.5 571.61 L947.2 576.77 L947.9 576.47 L948.6 575.62 L949.3 572.62 L950 572.93 L950.7 574.3 L951.4 571.72 L952.1 577.91 L952.8 574.2 L953.5 578.09 L954.2 572.75 L954.9 576.11 L955.6 577.26 L956.3 576.24 L957.02 574.71 L957.74 571.84 L958.47 574.94 L959.19 574.67 L959.91 578.86 L960.63 579.17 L961.36 579.13 L962.08 579.4 L962.8 573.31 L963.52 572.29 L964.24 574.37 L964.97 572.22 L965.69 573.13 L966.41 576.79 L967.13 573.89 L967.86 577.21 L968.58 575.44 L969.3 574.64 L970.02 580.35 L970.74 574.05 L971.47 579.82 L972.19 576.97 L972.91 578.17 L973.63 573.91 L974.36 579.02 L975.08 580.32 L975.8 574.53 L976.5 576.95 L977.21 578.58 L977.91 577.12 L978.62 579.61 L979.32 578.76 L980.02 575.94 L980.73 579.26 L981.43 580.17 L982.14 577.49 L982.84 578.71 L983.54 579.2 L984.25 577.85 L984.95 574.39 L985.66 577.37 L986.36 580.86 L987.06 580.45 L987.77 574.49 L988.47 578.33 L989.18 579.45 L989.88 579.01 L990.58 575.45 L991.29 580.26 L991.99 580.83 L992.7 579.36 L993.4 579.1" stroke="#0202f4" stroke-width="4" fill="none" stroke-linejoin="round"/>
<path d="M616.8 505.4 L645.2 505 L649.1 512.2 L658.8 519 L668.6 526.9 L688.1 540.5 L707.7 553.2 L727.2 563 L746.7 568.3 L760.4 567.9 L776 564 L795.5 559.5 L800 558.2 L819.5 552.7 L839 547.9 L858.6 544.5 L878.1 542.6 L897.7 541.6 L917.2 541.6 L936.7 542 L956.3 543.4 L975.8 545.9 L993.4 547.9" stroke="#fa0000" stroke-width="3.8" fill="none" stroke-dasharray="8.8 4.4"/>
</g>
<line x1="630.5" y1="350.8" x2="666.7" y2="350.8" stroke="#0202f4" stroke-width="3.3"/>
<path d="M630.5 377.4H639.3M642.5 377.4H650.6M653.5 377.4H660.8M663.7 377.4H666.7" stroke="#fa0000" stroke-width="3.2"/>
<text transform="translate(669.3 358.6) scale(1.0606 1)" font-family='"Liberation Sans", sans-serif' font-size="20.70" fill="#141414">Measured</text>
<text transform="translate(670.09 386.89) scale(1.0160 1)" font-family='"Liberation Sans", sans-serif' font-size="21.92" fill="#141414">Simulated</text>
<text transform="translate(794.66 716.18) scale(1.0112 1)" font-family='"Liberation Serif", serif' font-size="27.79" fill="#161616">(d)</text>
</svg>
</body></html>
